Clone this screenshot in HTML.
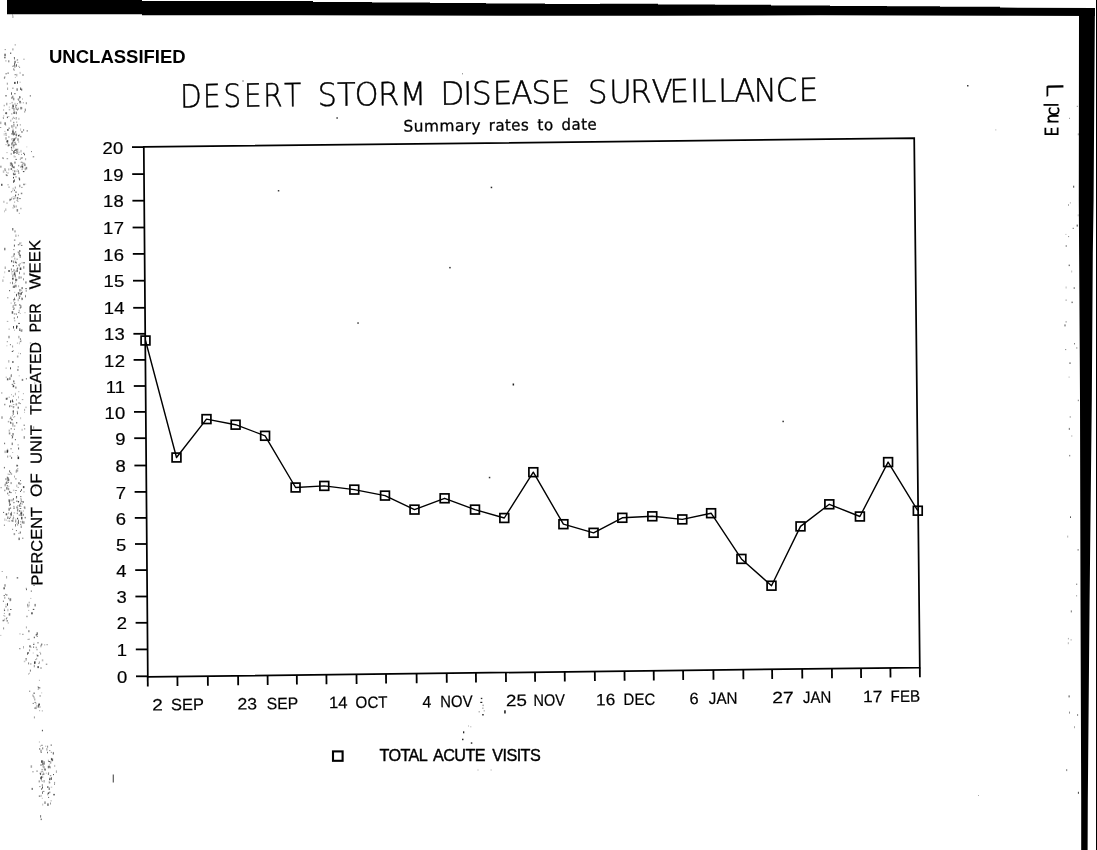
<!DOCTYPE html>
<html><head><meta charset="utf-8"><title>Desert Storm Disease Surveillance</title>
<style>html,body{margin:0;padding:0;background:#fff;} body{width:1097px;height:850px;overflow:hidden;position:relative;}</style>
</head><body>
<svg width="1097" height="850" viewBox="0 0 1097 850" style="position:absolute;left:0;top:0">
<rect width="1097" height="850" fill="#fff"/>
<g id="noise">
<rect x="13.6" y="65.1" width="1" height="1" fill="rgb(88,88,88)" opacity="0.41"/><rect x="4.7" y="49.1" width="1" height="1" fill="rgb(31,31,31)" opacity="0.61"/><rect x="17.1" y="61.9" width="1.5" height="1" fill="rgb(92,92,92)" opacity="0.42"/><rect x="16.3" y="73.9" width="1" height="2.5" fill="rgb(94,94,94)" opacity="0.59"/><rect x="16.6" y="59.5" width="1" height="1.5" fill="rgb(73,73,73)" opacity="0.44"/><rect x="18.4" y="65.8" width="1" height="1" fill="rgb(94,94,94)" opacity="0.69"/><rect x="15.9" y="64.2" width="1" height="2.5" fill="rgb(27,27,27)" opacity="0.72"/><rect x="8.3" y="60.3" width="1" height="2" fill="rgb(94,94,94)" opacity="0.90"/><rect x="12.4" y="65.8" width="1" height="1" fill="rgb(30,30,30)" opacity="0.69"/><rect x="4.1" y="56.8" width="1.5" height="1.5" fill="rgb(97,97,97)" opacity="0.94"/><rect x="19.1" y="67.0" width="1" height="1" fill="rgb(82,82,82)" opacity="0.60"/><rect x="17.1" y="59.0" width="1" height="1.5" fill="rgb(108,108,108)" opacity="0.56"/><rect x="5.4" y="60.4" width="1" height="1" fill="rgb(54,54,54)" opacity="0.63"/><rect x="14.0" y="57.0" width="1" height="2.5" fill="rgb(107,107,107)" opacity="0.84"/><rect x="13.9" y="69.6" width="1" height="1" fill="rgb(79,79,79)" opacity="0.56"/><rect x="10.2" y="52.5" width="1" height="1.5" fill="rgb(36,36,36)" opacity="0.79"/><rect x="5.4" y="73.3" width="1.5" height="1" fill="rgb(41,41,41)" opacity="0.62"/><rect x="4.3" y="53.7" width="1.5" height="2.5" fill="rgb(55,55,55)" opacity="0.77"/><rect x="23.2" y="58.7" width="1.5" height="1" fill="rgb(39,39,39)" opacity="0.40"/><rect x="19.6" y="71.9" width="1" height="2" fill="rgb(95,95,95)" opacity="0.46"/><rect x="14.4" y="65.5" width="1" height="2.5" fill="rgb(92,92,92)" opacity="0.54"/><rect x="22.5" y="74.0" width="1" height="2" fill="rgb(119,119,119)" opacity="0.92"/><rect x="12.1" y="48.4" width="1.5" height="2" fill="rgb(70,70,70)" opacity="0.41"/><rect x="13.7" y="57.3" width="1" height="1" fill="rgb(76,76,76)" opacity="0.45"/><rect x="14.0" y="62.8" width="1" height="2.5" fill="rgb(39,39,39)" opacity="0.67"/>
<rect x="22.0" y="98.5" width="1" height="1" fill="rgb(98,98,98)" opacity="0.58"/><rect x="3.9" y="77.0" width="1" height="2" fill="rgb(35,35,35)" opacity="0.42"/><rect x="8.8" y="106.6" width="1" height="1" fill="rgb(115,115,115)" opacity="0.56"/><rect x="12.9" y="133.1" width="1" height="2.5" fill="rgb(22,22,22)" opacity="0.47"/><rect x="19.5" y="100.8" width="1" height="2.5" fill="rgb(58,58,58)" opacity="0.94"/><rect x="20.1" y="87.5" width="1" height="2.5" fill="rgb(66,66,66)" opacity="0.89"/><rect x="11.3" y="113.4" width="1" height="1" fill="rgb(98,98,98)" opacity="0.84"/><rect x="25.8" y="102.2" width="1" height="2" fill="rgb(114,114,114)" opacity="0.83"/><rect x="16.2" y="121.6" width="1" height="1" fill="rgb(55,55,55)" opacity="0.63"/><rect x="16.9" y="124.2" width="1" height="2" fill="rgb(112,112,112)" opacity="0.94"/><rect x="19.6" y="101.0" width="1" height="1" fill="rgb(49,49,49)" opacity="0.63"/><rect x="10.3" y="119.7" width="1" height="2" fill="rgb(103,103,103)" opacity="0.56"/><rect x="6.8" y="82.7" width="1" height="2" fill="rgb(120,120,120)" opacity="0.78"/><rect x="18.0" y="134.9" width="1.5" height="1.5" fill="rgb(31,31,31)" opacity="0.83"/><rect x="20.0" y="102.3" width="1.5" height="1" fill="rgb(112,112,112)" opacity="0.45"/><rect x="15.4" y="104.8" width="1.5" height="1" fill="rgb(98,98,98)" opacity="0.85"/><rect x="22.8" y="102.3" width="1" height="1" fill="rgb(90,90,90)" opacity="0.68"/><rect x="24.8" y="108.6" width="1" height="2.5" fill="rgb(115,115,115)" opacity="0.91"/><rect x="2.7" y="117.3" width="1" height="1" fill="rgb(52,52,52)" opacity="0.48"/><rect x="3.7" y="104.8" width="1" height="1.5" fill="rgb(89,89,89)" opacity="0.60"/><rect x="23.1" y="129.1" width="1" height="2" fill="rgb(104,104,104)" opacity="0.70"/><rect x="19.2" y="96.1" width="1" height="2.5" fill="rgb(39,39,39)" opacity="0.66"/><rect x="20.5" y="106.9" width="1" height="2.5" fill="rgb(20,20,20)" opacity="0.82"/><rect x="16.0" y="111.7" width="1" height="2.5" fill="rgb(27,27,27)" opacity="0.55"/><rect x="6.3" y="102.8" width="1" height="2.5" fill="rgb(27,27,27)" opacity="0.50"/><rect x="12.2" y="130.4" width="1.5" height="2.5" fill="rgb(23,23,23)" opacity="0.81"/><rect x="19.6" y="96.5" width="1" height="1.5" fill="rgb(77,77,77)" opacity="0.65"/><rect x="16.6" y="88.3" width="1" height="2.5" fill="rgb(53,53,53)" opacity="0.90"/><rect x="17.2" y="98.7" width="1.5" height="1" fill="rgb(73,73,73)" opacity="0.42"/><rect x="11.8" y="107.1" width="1" height="2" fill="rgb(29,29,29)" opacity="0.48"/><rect x="13.0" y="112.2" width="1" height="1.5" fill="rgb(38,38,38)" opacity="0.50"/><rect x="18.4" y="117.8" width="1" height="2" fill="rgb(82,82,82)" opacity="0.45"/><rect x="11.9" y="95.7" width="1.5" height="2.5" fill="rgb(71,71,71)" opacity="0.55"/><rect x="15.8" y="117.4" width="1" height="1" fill="rgb(63,63,63)" opacity="0.68"/><rect x="12.9" y="106.0" width="1" height="2.5" fill="rgb(99,99,99)" opacity="0.53"/><rect x="16.9" y="103.2" width="1" height="1" fill="rgb(30,30,30)" opacity="0.51"/><rect x="24.2" y="111.4" width="1" height="1" fill="rgb(74,74,74)" opacity="0.86"/><rect x="7.4" y="72.6" width="1.5" height="1" fill="rgb(88,88,88)" opacity="0.90"/><rect x="5.5" y="95.0" width="1" height="1.5" fill="rgb(27,27,27)" opacity="0.83"/><rect x="19.2" y="134.1" width="1" height="1" fill="rgb(101,101,101)" opacity="0.40"/><rect x="13.4" y="125.5" width="1" height="1" fill="rgb(53,53,53)" opacity="0.87"/><rect x="8.7" y="108.9" width="1.5" height="1.5" fill="rgb(99,99,99)" opacity="0.43"/><rect x="9.6" y="103.1" width="1" height="1" fill="rgb(53,53,53)" opacity="0.38"/><rect x="15.6" y="117.4" width="1" height="2.5" fill="rgb(117,117,117)" opacity="0.47"/><rect x="5.5" y="112.5" width="1" height="1.5" fill="rgb(22,22,22)" opacity="0.95"/><rect x="15.1" y="105.7" width="1" height="2.5" fill="rgb(80,80,80)" opacity="0.50"/><rect x="5.6" y="112.2" width="1.5" height="2" fill="rgb(89,89,89)" opacity="0.85"/><rect x="8.3" y="116.1" width="1" height="1" fill="rgb(63,63,63)" opacity="0.47"/><rect x="21.2" y="88.6" width="1" height="2" fill="rgb(64,64,64)" opacity="0.94"/><rect x="14.5" y="102.8" width="1" height="2" fill="rgb(40,40,40)" opacity="0.38"/><rect x="11.0" y="92.3" width="1" height="2.5" fill="rgb(51,51,51)" opacity="0.77"/><rect x="17.7" y="107.7" width="1" height="2" fill="rgb(20,20,20)" opacity="0.51"/><rect x="29.8" y="95.4" width="1" height="1" fill="rgb(24,24,24)" opacity="0.93"/><rect x="11.9" y="118.1" width="1" height="1.5" fill="rgb(68,68,68)" opacity="0.40"/><rect x="12.4" y="126.6" width="1" height="2.5" fill="rgb(119,119,119)" opacity="0.35"/><rect x="13.8" y="111.5" width="1.5" height="2.5" fill="rgb(25,25,25)" opacity="0.59"/><rect x="11.4" y="125.1" width="1" height="2.5" fill="rgb(87,87,87)" opacity="0.86"/><rect x="21.2" y="131.2" width="1.5" height="1.5" fill="rgb(112,112,112)" opacity="0.94"/><rect x="19.8" y="124.4" width="1" height="1" fill="rgb(111,111,111)" opacity="0.89"/><rect x="7.1" y="87.5" width="1" height="2.5" fill="rgb(116,116,116)" opacity="0.65"/><rect x="19.6" y="81.7" width="1" height="1" fill="rgb(23,23,23)" opacity="0.38"/><rect x="4.0" y="76.2" width="1.5" height="2" fill="rgb(91,91,91)" opacity="0.38"/><rect x="21.4" y="107.2" width="1" height="2" fill="rgb(53,53,53)" opacity="0.35"/><rect x="17.0" y="81.2" width="1" height="2.5" fill="rgb(28,28,28)" opacity="0.80"/><rect x="3.1" y="109.5" width="1" height="1" fill="rgb(113,113,113)" opacity="0.80"/><rect x="15.1" y="126.6" width="1.5" height="2" fill="rgb(68,68,68)" opacity="0.40"/><rect x="18.2" y="98.4" width="1" height="2.5" fill="rgb(100,100,100)" opacity="0.74"/><rect x="17.0" y="109.0" width="1" height="1.5" fill="rgb(99,99,99)" opacity="0.69"/><rect x="16.1" y="105.4" width="1" height="1" fill="rgb(108,108,108)" opacity="0.48"/>
<rect x="2.4" y="157.0" width="1" height="2" fill="rgb(79,79,79)" opacity="0.63"/><rect x="23.5" y="183.7" width="1" height="1.5" fill="rgb(30,30,30)" opacity="0.91"/><rect x="20.4" y="157.4" width="1.5" height="1.5" fill="rgb(69,69,69)" opacity="0.48"/><rect x="17.4" y="150.4" width="1" height="1" fill="rgb(115,115,115)" opacity="0.66"/><rect x="16.4" y="151.9" width="1" height="1" fill="rgb(110,110,110)" opacity="0.57"/><rect x="9.9" y="162.3" width="1.5" height="2" fill="rgb(71,71,71)" opacity="0.53"/><rect x="16.9" y="169.2" width="1" height="1" fill="rgb(62,62,62)" opacity="0.35"/><rect x="13.1" y="116.8" width="1" height="1" fill="rgb(111,111,111)" opacity="0.36"/><rect x="12.7" y="139.7" width="1" height="2" fill="rgb(69,69,69)" opacity="0.95"/><rect x="7.6" y="144.9" width="1.5" height="1.5" fill="rgb(26,26,26)" opacity="0.52"/><rect x="22.4" y="164.4" width="1" height="1" fill="rgb(54,54,54)" opacity="0.61"/><rect x="8.3" y="186.6" width="1.5" height="1" fill="rgb(117,117,117)" opacity="0.73"/><rect x="26.7" y="130.4" width="1" height="1" fill="rgb(26,26,26)" opacity="0.91"/><rect x="5.1" y="169.7" width="1" height="1.5" fill="rgb(82,82,82)" opacity="0.38"/><rect x="16.2" y="150.4" width="1.5" height="2" fill="rgb(63,63,63)" opacity="0.52"/><rect x="12.6" y="187.7" width="1" height="2" fill="rgb(103,103,103)" opacity="0.49"/><rect x="3.0" y="158.1" width="1" height="1" fill="rgb(102,102,102)" opacity="0.45"/><rect x="16.8" y="197.0" width="1.5" height="2.5" fill="rgb(48,48,48)" opacity="0.62"/><rect x="7.3" y="184.3" width="1.5" height="1" fill="rgb(90,90,90)" opacity="0.47"/><rect x="18.2" y="164.9" width="1" height="1.5" fill="rgb(50,50,50)" opacity="0.57"/><rect x="14.7" y="142.5" width="1" height="2" fill="rgb(69,69,69)" opacity="0.60"/><rect x="6.5" y="152.1" width="1" height="1" fill="rgb(83,83,83)" opacity="0.52"/><rect x="16.4" y="152.9" width="1" height="1" fill="rgb(54,54,54)" opacity="0.89"/><rect x="5.7" y="174.1" width="1.5" height="1.5" fill="rgb(22,22,22)" opacity="0.43"/><rect x="2.8" y="170.4" width="1.5" height="2.5" fill="rgb(82,82,82)" opacity="0.35"/><rect x="1.0" y="183.8" width="1.5" height="2" fill="rgb(51,51,51)" opacity="0.82"/><rect x="13.6" y="166.3" width="1" height="2" fill="rgb(30,30,30)" opacity="0.68"/><rect x="24.4" y="163.6" width="1" height="2.5" fill="rgb(24,24,24)" opacity="0.74"/><rect x="11.8" y="164.9" width="1" height="2.5" fill="rgb(101,101,101)" opacity="0.61"/><rect x="13.3" y="145.9" width="1" height="2.5" fill="rgb(94,94,94)" opacity="0.47"/><rect x="12.2" y="190.3" width="1" height="1" fill="rgb(88,88,88)" opacity="0.53"/><rect x="4.4" y="122.3" width="1.5" height="2.5" fill="rgb(50,50,50)" opacity="0.68"/><rect x="19.8" y="158.8" width="1" height="1" fill="rgb(22,22,22)" opacity="0.47"/><rect x="20.3" y="135.9" width="1" height="1.5" fill="rgb(49,49,49)" opacity="0.75"/><rect x="17.3" y="148.5" width="1" height="1.5" fill="rgb(111,111,111)" opacity="0.60"/><rect x="11.2" y="142.9" width="1" height="2.5" fill="rgb(28,28,28)" opacity="0.47"/><rect x="18.7" y="151.7" width="1" height="1" fill="rgb(79,79,79)" opacity="0.48"/><rect x="13.4" y="138.3" width="1.5" height="2.5" fill="rgb(43,43,43)" opacity="0.89"/><rect x="21.5" y="164.3" width="1.5" height="1" fill="rgb(47,47,47)" opacity="0.36"/><rect x="7.2" y="143.2" width="1" height="1" fill="rgb(70,70,70)" opacity="0.62"/><rect x="11.6" y="138.1" width="1" height="1" fill="rgb(41,41,41)" opacity="0.55"/><rect x="19.2" y="198.1" width="1.5" height="1" fill="rgb(59,59,59)" opacity="0.75"/><rect x="8.3" y="168.4" width="1" height="2" fill="rgb(41,41,41)" opacity="0.42"/><rect x="15.4" y="158.9" width="1.5" height="1" fill="rgb(91,91,91)" opacity="0.93"/><rect x="14.7" y="173.1" width="1" height="2" fill="rgb(31,31,31)" opacity="0.38"/><rect x="6.6" y="158.2" width="1.5" height="1" fill="rgb(61,61,61)" opacity="0.57"/><rect x="14.3" y="152.0" width="1.5" height="1" fill="rgb(100,100,100)" opacity="0.81"/><rect x="14.7" y="156.3" width="1" height="1" fill="rgb(52,52,52)" opacity="0.47"/><rect x="21.5" y="165.5" width="1" height="1.5" fill="rgb(62,62,62)" opacity="0.92"/><rect x="9.1" y="144.5" width="1" height="1.5" fill="rgb(58,58,58)" opacity="0.35"/><rect x="13.5" y="110.5" width="1" height="1" fill="rgb(49,49,49)" opacity="0.41"/><rect x="11.4" y="133.1" width="1.5" height="1.5" fill="rgb(75,75,75)" opacity="0.84"/><rect x="18.3" y="172.4" width="1" height="1.5" fill="rgb(108,108,108)" opacity="0.81"/><rect x="8.3" y="143.9" width="1" height="2" fill="rgb(66,66,66)" opacity="0.82"/><rect x="6.3" y="141.4" width="1.5" height="1" fill="rgb(51,51,51)" opacity="0.59"/><rect x="8.4" y="136.5" width="1" height="1" fill="rgb(74,74,74)" opacity="0.88"/><rect x="18.3" y="153.8" width="1" height="1" fill="rgb(32,32,32)" opacity="0.60"/><rect x="31.0" y="151.1" width="1" height="1" fill="rgb(37,37,37)" opacity="0.60"/><rect x="5.6" y="134.5" width="1" height="1.5" fill="rgb(57,57,57)" opacity="0.52"/><rect x="12.4" y="170.2" width="1" height="1" fill="rgb(76,76,76)" opacity="0.50"/><rect x="13.1" y="166.5" width="1" height="1.5" fill="rgb(28,28,28)" opacity="0.59"/><rect x="21.0" y="153.9" width="1" height="1" fill="rgb(103,103,103)" opacity="0.63"/><rect x="13.6" y="155.4" width="1" height="2" fill="rgb(67,67,67)" opacity="0.37"/><rect x="12.1" y="164.7" width="1" height="2.5" fill="rgb(94,94,94)" opacity="0.47"/><rect x="20.2" y="165.9" width="1" height="2" fill="rgb(97,97,97)" opacity="0.51"/><rect x="15.8" y="107.5" width="1" height="2.5" fill="rgb(110,110,110)" opacity="0.72"/><rect x="14.3" y="173.8" width="1" height="1" fill="rgb(46,46,46)" opacity="0.95"/><rect x="23.6" y="162.7" width="1" height="1" fill="rgb(61,61,61)" opacity="0.60"/><rect x="6.5" y="175.1" width="1" height="1" fill="rgb(24,24,24)" opacity="0.83"/><rect x="10.7" y="152.9" width="1" height="2" fill="rgb(104,104,104)" opacity="0.68"/><rect x="11.1" y="148.3" width="1" height="2" fill="rgb(109,109,109)" opacity="0.51"/><rect x="23.0" y="152.8" width="1.5" height="1" fill="rgb(59,59,59)" opacity="0.80"/><rect x="18.2" y="141.2" width="1" height="1.5" fill="rgb(102,102,102)" opacity="0.47"/><rect x="12.4" y="141.6" width="1" height="2" fill="rgb(40,40,40)" opacity="0.60"/><rect x="15.9" y="136.5" width="1" height="2" fill="rgb(118,118,118)" opacity="0.45"/><rect x="21.5" y="157.4" width="1.5" height="1" fill="rgb(93,93,93)" opacity="0.72"/><rect x="7.5" y="172.2" width="1" height="1.5" fill="rgb(56,56,56)" opacity="0.45"/><rect x="14.2" y="161.6" width="1.5" height="2" fill="rgb(116,116,116)" opacity="0.83"/><rect x="17.4" y="152.3" width="1" height="1" fill="rgb(81,81,81)" opacity="0.54"/><rect x="5.5" y="137.2" width="1" height="2.5" fill="rgb(108,108,108)" opacity="0.84"/><rect x="19.3" y="184.7" width="1" height="2.5" fill="rgb(71,71,71)" opacity="0.72"/><rect x="15.5" y="176.4" width="1" height="1" fill="rgb(71,71,71)" opacity="0.91"/><rect x="16.5" y="170.7" width="1" height="1" fill="rgb(112,112,112)" opacity="0.84"/><rect x="17.9" y="193.8" width="1" height="1.5" fill="rgb(35,35,35)" opacity="0.58"/><rect x="0.4" y="165.7" width="1" height="2" fill="rgb(59,59,59)" opacity="0.70"/><rect x="4.2" y="168.2" width="1.5" height="2.5" fill="rgb(76,76,76)" opacity="0.46"/><rect x="32.7" y="156.3" width="1.5" height="1" fill="rgb(77,77,77)" opacity="0.81"/><rect x="14.4" y="133.2" width="1" height="2" fill="rgb(71,71,71)" opacity="0.41"/><rect x="18.0" y="170.3" width="1" height="2" fill="rgb(84,84,84)" opacity="0.66"/><rect x="22.3" y="162.2" width="1" height="1.5" fill="rgb(119,119,119)" opacity="0.78"/><rect x="22.9" y="171.1" width="1.5" height="1" fill="rgb(23,23,23)" opacity="0.86"/><rect x="24.0" y="154.2" width="1" height="1" fill="rgb(36,36,36)" opacity="0.94"/><rect x="16.5" y="149.0" width="1" height="1" fill="rgb(64,64,64)" opacity="0.72"/><rect x="12.9" y="172.7" width="1" height="2" fill="rgb(38,38,38)" opacity="0.50"/><rect x="20.5" y="149.9" width="1" height="2.5" fill="rgb(84,84,84)" opacity="0.49"/><rect x="9.9" y="164.6" width="1.5" height="1" fill="rgb(101,101,101)" opacity="0.91"/><rect x="6.9" y="116.6" width="1" height="1.5" fill="rgb(34,34,34)" opacity="0.81"/><rect x="25.7" y="166.9" width="1.5" height="2.5" fill="rgb(86,86,86)" opacity="0.70"/><rect x="15.3" y="148.7" width="1.5" height="1.5" fill="rgb(53,53,53)" opacity="0.58"/><rect x="10.4" y="163.2" width="1" height="1" fill="rgb(76,76,76)" opacity="0.49"/><rect x="0.3" y="121.6" width="1" height="2.5" fill="rgb(52,52,52)" opacity="0.54"/><rect x="26.3" y="146.4" width="1" height="1" fill="rgb(115,115,115)" opacity="0.37"/><rect x="18.5" y="177.3" width="1.5" height="2" fill="rgb(85,85,85)" opacity="0.57"/><rect x="20.5" y="161.8" width="1" height="1" fill="rgb(26,26,26)" opacity="0.35"/><rect x="11.0" y="162.5" width="1" height="2.5" fill="rgb(48,48,48)" opacity="0.60"/><rect x="11.9" y="165.2" width="1" height="2.5" fill="rgb(80,80,80)" opacity="0.45"/><rect x="25.1" y="158.2" width="1" height="2" fill="rgb(32,32,32)" opacity="0.39"/><rect x="19.1" y="178.4" width="1" height="2" fill="rgb(53,53,53)" opacity="0.93"/><rect x="24.7" y="167.8" width="1" height="2.5" fill="rgb(102,102,102)" opacity="0.70"/><rect x="6.5" y="140.6" width="1.5" height="1" fill="rgb(41,41,41)" opacity="0.89"/><rect x="21.0" y="161.7" width="1.5" height="1" fill="rgb(50,50,50)" opacity="0.45"/><rect x="15.7" y="150.0" width="1" height="1" fill="rgb(72,72,72)" opacity="0.47"/><rect x="6.8" y="140.1" width="1.5" height="2.5" fill="rgb(42,42,42)" opacity="0.66"/><rect x="21.7" y="165.9" width="1.5" height="2.5" fill="rgb(20,20,20)" opacity="0.58"/><rect x="21.6" y="169.1" width="1" height="1" fill="rgb(33,33,33)" opacity="0.51"/><rect x="10.9" y="146.9" width="1" height="1" fill="rgb(54,54,54)" opacity="0.73"/><rect x="8.6" y="127.5" width="1" height="1.5" fill="rgb(102,102,102)" opacity="0.91"/><rect x="15.2" y="149.8" width="1" height="1" fill="rgb(53,53,53)" opacity="0.89"/><rect x="15.5" y="143.7" width="1" height="1.5" fill="rgb(44,44,44)" opacity="0.88"/><rect x="10.6" y="168.0" width="1.5" height="2" fill="rgb(87,87,87)" opacity="0.77"/><rect x="17.5" y="138.3" width="1" height="2.5" fill="rgb(59,59,59)" opacity="0.82"/><rect x="6.0" y="171.7" width="1" height="1" fill="rgb(24,24,24)" opacity="0.37"/><rect x="25.2" y="183.6" width="1" height="1" fill="rgb(109,109,109)" opacity="0.37"/><rect x="23.0" y="162.9" width="1" height="1" fill="rgb(114,114,114)" opacity="0.38"/><rect x="20.1" y="128.4" width="1" height="2.5" fill="rgb(105,105,105)" opacity="0.39"/>
<rect x="21.1" y="186.9" width="1.5" height="1" fill="rgb(51,51,51)" opacity="0.47"/><rect x="14.1" y="201.4" width="1" height="1.5" fill="rgb(81,81,81)" opacity="0.41"/><rect x="20.4" y="207.8" width="1" height="1.5" fill="rgb(60,60,60)" opacity="0.55"/><rect x="12.6" y="207.4" width="1" height="1" fill="rgb(111,111,111)" opacity="0.81"/><rect x="20.8" y="192.7" width="1.5" height="1.5" fill="rgb(99,99,99)" opacity="0.80"/><rect x="13.3" y="198.0" width="1" height="1.5" fill="rgb(80,80,80)" opacity="0.77"/><rect x="9.3" y="198.7" width="1" height="2.5" fill="rgb(56,56,56)" opacity="0.45"/><rect x="16.6" y="200.0" width="1" height="1" fill="rgb(64,64,64)" opacity="0.64"/><rect x="3.4" y="200.8" width="1" height="2" fill="rgb(95,95,95)" opacity="0.56"/><rect x="15.1" y="194.6" width="1" height="1.5" fill="rgb(47,47,47)" opacity="0.91"/><rect x="13.4" y="204.8" width="1" height="2" fill="rgb(120,120,120)" opacity="0.94"/><rect x="10.6" y="198.6" width="1" height="1.5" fill="rgb(32,32,32)" opacity="0.59"/><rect x="4.0" y="210.3" width="1" height="2" fill="rgb(102,102,102)" opacity="0.37"/><rect x="14.1" y="206.0" width="1" height="2" fill="rgb(100,100,100)" opacity="0.49"/><rect x="6.5" y="202.4" width="1" height="1.5" fill="rgb(94,94,94)" opacity="0.55"/><rect x="18.8" y="212.8" width="1" height="1" fill="rgb(79,79,79)" opacity="0.61"/><rect x="14.0" y="189.6" width="1" height="1.5" fill="rgb(79,79,79)" opacity="0.74"/><rect x="10.9" y="191.0" width="1" height="1.5" fill="rgb(116,116,116)" opacity="0.77"/><rect x="14.7" y="196.1" width="1" height="1" fill="rgb(112,112,112)" opacity="0.55"/><rect x="9.8" y="199.3" width="1" height="1" fill="rgb(53,53,53)" opacity="0.94"/><rect x="12.7" y="196.3" width="1" height="1" fill="rgb(69,69,69)" opacity="0.44"/><rect x="15.7" y="205.4" width="1" height="2" fill="rgb(55,55,55)" opacity="0.47"/><rect x="11.3" y="197.1" width="1" height="2" fill="rgb(79,79,79)" opacity="0.37"/><rect x="5.3" y="208.4" width="1" height="2.5" fill="rgb(100,100,100)" opacity="0.53"/><rect x="17.1" y="200.9" width="1.5" height="1" fill="rgb(114,114,114)" opacity="0.50"/>
<rect x="14.5" y="74.2" width="1.5" height="1" fill="rgb(105,105,105)" opacity="0.78"/><rect x="14.9" y="76.9" width="1" height="1" fill="rgb(102,102,102)" opacity="0.42"/><rect x="12.7" y="144.4" width="1" height="2" fill="rgb(51,51,51)" opacity="0.82"/><rect x="13.2" y="68.3" width="1" height="2" fill="rgb(81,81,81)" opacity="0.62"/><rect x="12.7" y="98.1" width="1" height="1.5" fill="rgb(119,119,119)" opacity="0.36"/><rect x="14.7" y="44.4" width="1" height="1" fill="rgb(52,52,52)" opacity="0.68"/><rect x="14.5" y="196.5" width="1" height="2.5" fill="rgb(64,64,64)" opacity="0.41"/><rect x="12.3" y="104.6" width="1.5" height="2.5" fill="rgb(22,22,22)" opacity="0.73"/><rect x="14.1" y="81.9" width="1.5" height="2" fill="rgb(46,46,46)" opacity="0.94"/><rect x="14.0" y="179.4" width="1" height="2.5" fill="rgb(65,65,65)" opacity="0.73"/><rect x="13.5" y="174.1" width="1" height="1" fill="rgb(29,29,29)" opacity="0.60"/><rect x="12.0" y="163.3" width="1" height="2.5" fill="rgb(53,53,53)" opacity="0.42"/><rect x="13.1" y="173.0" width="1" height="2" fill="rgb(79,79,79)" opacity="0.48"/><rect x="14.8" y="186.6" width="1" height="2" fill="rgb(102,102,102)" opacity="0.69"/><rect x="13.9" y="244.6" width="1" height="2" fill="rgb(79,79,79)" opacity="0.95"/><rect x="13.6" y="65.0" width="1.5" height="1.5" fill="rgb(120,120,120)" opacity="0.86"/><rect x="13.4" y="173.5" width="1" height="2" fill="rgb(106,106,106)" opacity="0.46"/><rect x="15.2" y="131.2" width="1" height="1.5" fill="rgb(51,51,51)" opacity="0.74"/><rect x="13.0" y="176.9" width="1" height="1.5" fill="rgb(39,39,39)" opacity="0.91"/><rect x="13.7" y="117.8" width="1" height="1" fill="rgb(87,87,87)" opacity="0.85"/><rect x="13.4" y="124.2" width="1" height="1" fill="rgb(29,29,29)" opacity="0.74"/><rect x="13.5" y="150.8" width="1" height="1" fill="rgb(43,43,43)" opacity="0.82"/><rect x="13.1" y="151.3" width="1.5" height="2.5" fill="rgb(41,41,41)" opacity="0.72"/><rect x="12.4" y="15.5" width="1" height="2.5" fill="rgb(120,120,120)" opacity="0.73"/><rect x="13.1" y="180.3" width="1" height="2.5" fill="rgb(30,30,30)" opacity="0.80"/><rect x="11.4" y="165.1" width="1" height="1.5" fill="rgb(73,73,73)" opacity="0.49"/><rect x="14.3" y="170.3" width="1" height="2" fill="rgb(79,79,79)" opacity="0.89"/><rect x="13.3" y="97.8" width="1" height="2.5" fill="rgb(96,96,96)" opacity="0.87"/><rect x="15.6" y="133.6" width="1.5" height="2.5" fill="rgb(83,83,83)" opacity="0.75"/><rect x="14.1" y="93.2" width="1.5" height="1" fill="rgb(43,43,43)" opacity="0.73"/><rect x="13.3" y="121.8" width="1" height="1.5" fill="rgb(32,32,32)" opacity="0.66"/><rect x="11.2" y="139.2" width="1" height="1" fill="rgb(111,111,111)" opacity="0.60"/><rect x="13.8" y="144.3" width="1" height="1.5" fill="rgb(80,80,80)" opacity="0.82"/><rect x="11.3" y="96.9" width="1" height="2" fill="rgb(63,63,63)" opacity="0.60"/><rect x="11.6" y="101.9" width="1" height="1.5" fill="rgb(83,83,83)" opacity="0.59"/><rect x="12.6" y="129.2" width="1" height="1" fill="rgb(103,103,103)" opacity="0.65"/><rect x="14.0" y="149.9" width="1" height="1" fill="rgb(95,95,95)" opacity="0.93"/><rect x="16.6" y="209.1" width="1.5" height="2.5" fill="rgb(71,71,71)" opacity="0.68"/><rect x="14.4" y="141.7" width="1" height="1" fill="rgb(44,44,44)" opacity="0.84"/><rect x="11.7" y="142.0" width="1" height="2.5" fill="rgb(89,89,89)" opacity="0.72"/><rect x="12.4" y="87.7" width="1" height="1" fill="rgb(25,25,25)" opacity="0.75"/><rect x="11.7" y="150.0" width="1" height="1" fill="rgb(24,24,24)" opacity="0.60"/><rect x="15.5" y="191.4" width="1" height="1.5" fill="rgb(37,37,37)" opacity="0.82"/><rect x="12.7" y="116.8" width="1" height="1" fill="rgb(73,73,73)" opacity="0.37"/><rect x="14.9" y="137.4" width="1" height="2" fill="rgb(92,92,92)" opacity="0.66"/><rect x="14.3" y="60.8" width="1.5" height="2.5" fill="rgb(109,109,109)" opacity="0.90"/><rect x="13.3" y="132.5" width="1.5" height="2.5" fill="rgb(95,95,95)" opacity="0.95"/><rect x="13.2" y="108.0" width="1.5" height="2.5" fill="rgb(33,33,33)" opacity="0.40"/><rect x="11.2" y="146.6" width="1" height="2" fill="rgb(20,20,20)" opacity="0.36"/><rect x="12.0" y="14.4" width="1" height="1" fill="rgb(35,35,35)" opacity="0.43"/>
<rect x="23.6" y="272.7" width="1" height="2" fill="rgb(113,113,113)" opacity="0.80"/><rect x="19.6" y="263.3" width="1" height="1" fill="rgb(57,57,57)" opacity="0.73"/><rect x="13.5" y="253.9" width="1" height="1" fill="rgb(111,111,111)" opacity="0.37"/><rect x="25.4" y="281.5" width="1" height="2" fill="rgb(59,59,59)" opacity="0.54"/><rect x="4.0" y="247.8" width="1.5" height="2.5" fill="rgb(27,27,27)" opacity="0.54"/><rect x="23.3" y="262.3" width="1.5" height="1" fill="rgb(38,38,38)" opacity="0.93"/><rect x="25.0" y="294.9" width="1" height="2" fill="rgb(81,81,81)" opacity="0.58"/><rect x="17.9" y="234.8" width="1" height="1.5" fill="rgb(55,55,55)" opacity="0.39"/><rect x="23.3" y="266.2" width="1" height="2.5" fill="rgb(112,112,112)" opacity="0.94"/><rect x="18.6" y="252.3" width="1" height="2.5" fill="rgb(74,74,74)" opacity="0.94"/><rect x="15.1" y="284.8" width="1.5" height="2.5" fill="rgb(118,118,118)" opacity="0.89"/><rect x="16.6" y="258.5" width="1" height="1.5" fill="rgb(53,53,53)" opacity="0.51"/><rect x="21.7" y="298.2" width="1" height="1.5" fill="rgb(38,38,38)" opacity="0.84"/><rect x="19.7" y="255.5" width="1" height="2.5" fill="rgb(107,107,107)" opacity="0.82"/><rect x="8.3" y="270.0" width="1.5" height="2" fill="rgb(45,45,45)" opacity="0.82"/><rect x="12.3" y="228.0" width="1" height="2.5" fill="rgb(27,27,27)" opacity="0.76"/><rect x="11.4" y="272.2" width="1" height="2.5" fill="rgb(116,116,116)" opacity="0.36"/><rect x="9.9" y="282.4" width="1" height="1" fill="rgb(49,49,49)" opacity="0.59"/><rect x="10.9" y="268.5" width="1" height="2" fill="rgb(84,84,84)" opacity="0.70"/><rect x="16.3" y="279.1" width="1" height="1.5" fill="rgb(66,66,66)" opacity="0.70"/><rect x="9.1" y="290.2" width="1" height="1" fill="rgb(25,25,25)" opacity="0.90"/><rect x="4.2" y="271.3" width="1" height="2" fill="rgb(120,120,120)" opacity="0.40"/><rect x="14.5" y="273.4" width="1" height="2.5" fill="rgb(97,97,97)" opacity="0.36"/><rect x="31.1" y="279.6" width="1.5" height="2.5" fill="rgb(92,92,92)" opacity="0.48"/><rect x="18.9" y="264.5" width="1" height="2" fill="rgb(118,118,118)" opacity="0.71"/><rect x="12.8" y="265.0" width="1" height="1.5" fill="rgb(45,45,45)" opacity="0.95"/><rect x="14.1" y="272.5" width="1" height="2.5" fill="rgb(67,67,67)" opacity="0.87"/><rect x="2.4" y="279.4" width="1" height="2.5" fill="rgb(101,101,101)" opacity="0.59"/><rect x="25.0" y="296.0" width="1" height="1.5" fill="rgb(92,92,92)" opacity="0.49"/><rect x="25.3" y="288.1" width="1.5" height="1" fill="rgb(77,77,77)" opacity="0.86"/><rect x="12.3" y="278.0" width="1" height="1" fill="rgb(24,24,24)" opacity="0.92"/><rect x="16.8" y="268.1" width="1" height="1" fill="rgb(53,53,53)" opacity="0.82"/><rect x="13.0" y="249.1" width="1.5" height="1" fill="rgb(32,32,32)" opacity="0.44"/><rect x="15.4" y="234.5" width="1" height="2.5" fill="rgb(95,95,95)" opacity="0.61"/><rect x="11.5" y="256.2" width="1" height="1.5" fill="rgb(69,69,69)" opacity="0.42"/><rect x="11.7" y="271.1" width="1" height="1" fill="rgb(106,106,106)" opacity="0.89"/><rect x="3.3" y="276.6" width="1" height="1" fill="rgb(48,48,48)" opacity="0.40"/><rect x="11.2" y="260.2" width="1" height="2" fill="rgb(32,32,32)" opacity="0.91"/><rect x="14.2" y="272.1" width="1" height="2" fill="rgb(63,63,63)" opacity="0.54"/><rect x="15.3" y="277.4" width="1" height="1" fill="rgb(62,62,62)" opacity="0.48"/><rect x="23.0" y="278.3" width="1" height="2" fill="rgb(39,39,39)" opacity="0.51"/><rect x="12.3" y="274.6" width="1" height="2.5" fill="rgb(57,57,57)" opacity="0.55"/><rect x="18.1" y="285.2" width="1" height="2" fill="rgb(81,81,81)" opacity="0.42"/><rect x="16.8" y="269.3" width="1" height="2.5" fill="rgb(81,81,81)" opacity="0.85"/><rect x="21.6" y="287.1" width="1" height="2" fill="rgb(53,53,53)" opacity="0.95"/><rect x="17.2" y="266.9" width="1" height="2" fill="rgb(40,40,40)" opacity="0.38"/><rect x="14.3" y="257.6" width="1" height="2" fill="rgb(84,84,84)" opacity="0.55"/><rect x="15.2" y="270.7" width="1" height="1" fill="rgb(66,66,66)" opacity="0.61"/><rect x="18.2" y="264.5" width="1" height="1" fill="rgb(43,43,43)" opacity="0.66"/><rect x="15.4" y="279.3" width="1" height="1" fill="rgb(97,97,97)" opacity="0.79"/><rect x="15.2" y="260.7" width="1" height="2.5" fill="rgb(105,105,105)" opacity="0.77"/><rect x="17.7" y="251.6" width="1" height="1" fill="rgb(28,28,28)" opacity="0.77"/><rect x="4.7" y="266.5" width="1" height="2.5" fill="rgb(64,64,64)" opacity="0.55"/><rect x="20.9" y="244.9" width="1.5" height="1" fill="rgb(21,21,21)" opacity="0.60"/><rect x="15.2" y="262.0" width="1" height="1" fill="rgb(43,43,43)" opacity="0.69"/><rect x="16.5" y="269.6" width="1" height="2.5" fill="rgb(96,96,96)" opacity="0.86"/><rect x="7.3" y="297.3" width="1" height="1" fill="rgb(65,65,65)" opacity="0.78"/><rect x="19.4" y="242.5" width="1" height="2" fill="rgb(93,93,93)" opacity="0.80"/><rect x="25.2" y="281.4" width="1.5" height="2" fill="rgb(85,85,85)" opacity="0.37"/><rect x="16.0" y="262.4" width="1" height="1" fill="rgb(48,48,48)" opacity="0.72"/>
<rect x="19.7" y="307.5" width="1" height="1" fill="rgb(32,32,32)" opacity="0.91"/><rect x="17.8" y="292.2" width="1.5" height="2.5" fill="rgb(50,50,50)" opacity="0.77"/><rect x="24.5" y="312.2" width="1" height="1" fill="rgb(54,54,54)" opacity="0.42"/><rect x="13.2" y="300.5" width="1" height="1" fill="rgb(35,35,35)" opacity="0.42"/><rect x="21.8" y="291.7" width="1" height="1" fill="rgb(38,38,38)" opacity="0.75"/><rect x="14.0" y="302.4" width="1" height="2" fill="rgb(108,108,108)" opacity="0.60"/><rect x="20.6" y="289.7" width="1.5" height="1" fill="rgb(119,119,119)" opacity="0.57"/><rect x="11.7" y="311.2" width="1.5" height="2.5" fill="rgb(61,61,61)" opacity="0.84"/><rect x="18.8" y="297.3" width="1" height="1.5" fill="rgb(51,51,51)" opacity="0.87"/><rect x="17.7" y="298.7" width="1" height="2.5" fill="rgb(43,43,43)" opacity="0.39"/><rect x="13.6" y="304.8" width="1" height="1" fill="rgb(37,37,37)" opacity="0.60"/><rect x="6.8" y="320.9" width="1.5" height="1" fill="rgb(25,25,25)" opacity="0.37"/><rect x="16.0" y="293.9" width="1" height="2.5" fill="rgb(24,24,24)" opacity="0.72"/><rect x="18.0" y="312.1" width="1.5" height="1" fill="rgb(25,25,25)" opacity="0.52"/><rect x="16.0" y="313.6" width="1" height="1" fill="rgb(96,96,96)" opacity="0.93"/><rect x="25.7" y="289.8" width="1" height="2" fill="rgb(95,95,95)" opacity="0.67"/><rect x="19.2" y="304.1" width="1" height="1.5" fill="rgb(72,72,72)" opacity="0.70"/><rect x="17.0" y="316.1" width="1" height="2" fill="rgb(98,98,98)" opacity="0.77"/><rect x="18.7" y="309.7" width="1" height="2" fill="rgb(90,90,90)" opacity="0.53"/><rect x="10.6" y="302.6" width="1" height="1" fill="rgb(62,62,62)" opacity="0.48"/><rect x="14.0" y="299.2" width="1.5" height="1" fill="rgb(65,65,65)" opacity="0.45"/><rect x="21.4" y="297.4" width="1" height="2" fill="rgb(54,54,54)" opacity="0.52"/><rect x="21.4" y="299.3" width="1" height="1" fill="rgb(90,90,90)" opacity="0.39"/><rect x="21.0" y="292.2" width="1" height="2.5" fill="rgb(69,69,69)" opacity="0.85"/><rect x="13.8" y="313.5" width="1" height="1" fill="rgb(73,73,73)" opacity="0.55"/>
<rect x="13.0" y="326.0" width="1" height="2.5" fill="rgb(32,32,32)" opacity="0.79"/><rect x="13.9" y="239.4" width="1.5" height="1.5" fill="rgb(120,120,120)" opacity="0.73"/><rect x="12.9" y="255.5" width="1.5" height="1" fill="rgb(20,20,20)" opacity="0.60"/><rect x="13.5" y="285.4" width="1.5" height="2.5" fill="rgb(39,39,39)" opacity="0.60"/><rect x="14.5" y="230.4" width="1" height="2" fill="rgb(77,77,77)" opacity="0.77"/><rect x="13.8" y="317.2" width="1" height="2" fill="rgb(87,87,87)" opacity="0.68"/><rect x="13.3" y="307.6" width="1.5" height="2" fill="rgb(76,76,76)" opacity="0.53"/><rect x="12.1" y="277.6" width="1.5" height="2.5" fill="rgb(68,68,68)" opacity="0.70"/><rect x="16.1" y="325.4" width="1" height="2.5" fill="rgb(51,51,51)" opacity="0.93"/><rect x="14.3" y="320.3" width="1" height="1" fill="rgb(26,26,26)" opacity="0.50"/><rect x="14.7" y="274.6" width="1" height="2.5" fill="rgb(99,99,99)" opacity="0.95"/><rect x="12.7" y="286.0" width="1.5" height="2" fill="rgb(79,79,79)" opacity="0.56"/><rect x="13.2" y="274.4" width="1" height="1" fill="rgb(87,87,87)" opacity="0.49"/><rect x="12.9" y="309.0" width="1" height="1" fill="rgb(73,73,73)" opacity="0.64"/><rect x="12.6" y="305.4" width="1" height="2.5" fill="rgb(115,115,115)" opacity="0.84"/><rect x="14.5" y="313.1" width="1" height="1.5" fill="rgb(85,85,85)" opacity="0.46"/><rect x="13.5" y="269.2" width="1" height="2.5" fill="rgb(73,73,73)" opacity="0.73"/><rect x="12.0" y="281.7" width="1" height="2.5" fill="rgb(44,44,44)" opacity="0.60"/><rect x="15.3" y="304.3" width="1" height="1.5" fill="rgb(92,92,92)" opacity="0.95"/><rect x="13.8" y="283.3" width="1.5" height="1" fill="rgb(120,120,120)" opacity="0.35"/><rect x="13.7" y="253.1" width="1" height="2" fill="rgb(32,32,32)" opacity="0.70"/><rect x="13.6" y="272.7" width="1.5" height="2.5" fill="rgb(92,92,92)" opacity="0.51"/><rect x="13.2" y="260.6" width="1" height="2.5" fill="rgb(45,45,45)" opacity="0.60"/><rect x="14.5" y="302.1" width="1" height="1" fill="rgb(32,32,32)" opacity="0.40"/><rect x="15.2" y="278.8" width="1.5" height="2.5" fill="rgb(75,75,75)" opacity="0.83"/><rect x="14.2" y="291.8" width="1" height="1" fill="rgb(111,111,111)" opacity="0.49"/><rect x="14.0" y="297.7" width="1" height="2.5" fill="rgb(28,28,28)" opacity="0.56"/><rect x="13.0" y="299.2" width="1" height="1" fill="rgb(70,70,70)" opacity="0.70"/><rect x="15.1" y="281.9" width="1" height="1" fill="rgb(48,48,48)" opacity="0.38"/><rect x="15.9" y="265.2" width="1" height="1" fill="rgb(78,78,78)" opacity="0.53"/>
<rect x="17.8" y="244.3" width="1.5" height="1" fill="rgb(51,51,51)" opacity="0.76"/><rect x="19.3" y="254.6" width="1.5" height="1.5" fill="rgb(71,71,71)" opacity="0.88"/><rect x="18.1" y="295.2" width="1" height="1" fill="rgb(42,42,42)" opacity="0.45"/><rect x="19.9" y="292.6" width="1" height="2" fill="rgb(91,91,91)" opacity="0.57"/><rect x="18.9" y="342.3" width="1" height="2" fill="rgb(103,103,103)" opacity="0.39"/><rect x="21.4" y="329.2" width="1" height="2.5" fill="rgb(51,51,51)" opacity="0.58"/><rect x="19.0" y="295.7" width="1.5" height="1" fill="rgb(55,55,55)" opacity="0.75"/><rect x="19.7" y="304.7" width="1" height="1" fill="rgb(45,45,45)" opacity="0.51"/><rect x="20.3" y="276.5" width="1.5" height="2" fill="rgb(50,50,50)" opacity="0.45"/><rect x="19.0" y="328.3" width="1.5" height="2.5" fill="rgb(46,46,46)" opacity="0.53"/><rect x="19.3" y="293.1" width="1.5" height="1" fill="rgb(110,110,110)" opacity="0.95"/><rect x="19.0" y="271.7" width="1" height="2.5" fill="rgb(51,51,51)" opacity="0.59"/><rect x="19.4" y="289.0" width="1" height="2.5" fill="rgb(31,31,31)" opacity="0.68"/><rect x="19.8" y="341.1" width="1.5" height="1" fill="rgb(104,104,104)" opacity="0.78"/><rect x="20.1" y="294.1" width="1" height="1" fill="rgb(119,119,119)" opacity="0.86"/><rect x="19.3" y="329.9" width="1" height="1" fill="rgb(91,91,91)" opacity="0.90"/><rect x="20.6" y="242.4" width="1" height="1" fill="rgb(111,111,111)" opacity="0.54"/><rect x="20.1" y="305.4" width="1.5" height="1.5" fill="rgb(65,65,65)" opacity="0.59"/><rect x="21.6" y="261.9" width="1" height="1.5" fill="rgb(42,42,42)" opacity="0.37"/><rect x="19.3" y="250.0" width="1" height="2" fill="rgb(23,23,23)" opacity="0.75"/><rect x="19.7" y="268.5" width="1.5" height="1.5" fill="rgb(100,100,100)" opacity="0.41"/><rect x="19.8" y="313.0" width="1" height="1" fill="rgb(71,71,71)" opacity="0.37"/><rect x="20.4" y="307.0" width="1" height="1" fill="rgb(68,68,68)" opacity="0.79"/><rect x="18.6" y="276.3" width="1" height="2.5" fill="rgb(49,49,49)" opacity="0.69"/><rect x="19.8" y="267.5" width="1.5" height="2.5" fill="rgb(64,64,64)" opacity="0.91"/>
<rect x="20.0" y="353.2" width="1" height="1" fill="rgb(94,94,94)" opacity="0.71"/><rect x="16.9" y="342.6" width="1" height="1" fill="rgb(60,60,60)" opacity="0.48"/><rect x="20.7" y="329.8" width="1" height="2" fill="rgb(108,108,108)" opacity="0.80"/><rect x="20.5" y="339.8" width="1" height="1.5" fill="rgb(87,87,87)" opacity="0.40"/><rect x="18.4" y="335.8" width="1" height="2.5" fill="rgb(114,114,114)" opacity="0.76"/><rect x="17.0" y="325.7" width="1" height="1" fill="rgb(74,74,74)" opacity="0.75"/><rect x="18.3" y="322.9" width="1.5" height="1" fill="rgb(25,25,25)" opacity="0.92"/><rect x="16.1" y="326.3" width="1" height="2.5" fill="rgb(40,40,40)" opacity="0.93"/><rect x="8.6" y="328.6" width="1" height="1" fill="rgb(41,41,41)" opacity="0.56"/><rect x="9.9" y="344.2" width="1" height="1" fill="rgb(37,37,37)" opacity="0.76"/><rect x="6.8" y="341.2" width="1" height="1" fill="rgb(85,85,85)" opacity="0.76"/><rect x="18.2" y="352.7" width="1" height="1" fill="rgb(110,110,110)" opacity="0.44"/><rect x="8.5" y="335.8" width="1" height="2.5" fill="rgb(74,74,74)" opacity="0.81"/><rect x="16.9" y="355.5" width="1.5" height="2" fill="rgb(46,46,46)" opacity="0.42"/><rect x="11.8" y="351.0" width="1" height="1" fill="rgb(27,27,27)" opacity="0.89"/><rect x="12.1" y="345.5" width="1" height="2" fill="rgb(34,34,34)" opacity="0.45"/><rect x="6.4" y="345.3" width="1" height="1" fill="rgb(91,91,91)" opacity="0.39"/><rect x="29.8" y="342.5" width="1.5" height="1" fill="rgb(115,115,115)" opacity="0.78"/><rect x="19.9" y="338.1" width="1" height="2" fill="rgb(75,75,75)" opacity="0.64"/><rect x="14.0" y="329.7" width="1" height="1" fill="rgb(102,102,102)" opacity="0.52"/>
<rect x="5.7" y="376.7" width="1" height="1" fill="rgb(30,30,30)" opacity="0.43"/><rect x="25.5" y="406.6" width="1" height="1.5" fill="rgb(67,67,67)" opacity="0.46"/><rect x="5.6" y="367.6" width="1" height="1" fill="rgb(120,120,120)" opacity="0.78"/><rect x="10.5" y="428.3" width="1.5" height="1" fill="rgb(102,102,102)" opacity="0.85"/><rect x="11.2" y="419.1" width="1" height="1.5" fill="rgb(50,50,50)" opacity="0.38"/><rect x="23.5" y="424.7" width="1.5" height="1" fill="rgb(47,47,47)" opacity="0.65"/><rect x="10.0" y="400.0" width="1" height="2.5" fill="rgb(94,94,94)" opacity="0.73"/><rect x="17.0" y="412.3" width="1" height="2" fill="rgb(101,101,101)" opacity="0.93"/><rect x="15.6" y="403.4" width="1.5" height="2" fill="rgb(44,44,44)" opacity="0.48"/><rect x="12.8" y="404.0" width="1.5" height="1" fill="rgb(56,56,56)" opacity="0.39"/><rect x="24.0" y="411.8" width="1" height="1" fill="rgb(76,76,76)" opacity="0.36"/><rect x="18.0" y="396.3" width="1" height="2" fill="rgb(57,57,57)" opacity="0.35"/><rect x="17.4" y="368.9" width="1" height="2" fill="rgb(30,30,30)" opacity="0.68"/><rect x="6.9" y="397.6" width="1" height="2" fill="rgb(97,97,97)" opacity="0.72"/><rect x="14.9" y="392.8" width="1" height="2.5" fill="rgb(104,104,104)" opacity="0.53"/><rect x="4.3" y="403.8" width="1" height="1.5" fill="rgb(87,87,87)" opacity="0.88"/><rect x="18.3" y="402.5" width="1.5" height="1" fill="rgb(38,38,38)" opacity="0.75"/><rect x="7.8" y="420.9" width="1.5" height="1.5" fill="rgb(87,87,87)" opacity="0.49"/><rect x="9.1" y="406.2" width="1" height="1" fill="rgb(45,45,45)" opacity="0.68"/><rect x="24.2" y="428.4" width="1" height="1" fill="rgb(44,44,44)" opacity="0.67"/><rect x="13.9" y="425.5" width="1.5" height="1" fill="rgb(89,89,89)" opacity="0.69"/><rect x="20.1" y="417.2" width="1" height="2" fill="rgb(106,106,106)" opacity="0.39"/><rect x="1.5" y="416.3" width="1" height="2.5" fill="rgb(33,33,33)" opacity="0.63"/><rect x="10.7" y="374.6" width="1" height="2.5" fill="rgb(80,80,80)" opacity="0.81"/><rect x="21.6" y="428.8" width="1" height="2" fill="rgb(50,50,50)" opacity="0.38"/><rect x="24.1" y="408.9" width="1" height="2" fill="rgb(58,58,58)" opacity="0.42"/><rect x="23.7" y="436.2" width="1" height="2.5" fill="rgb(45,45,45)" opacity="0.69"/><rect x="25.9" y="378.0" width="1" height="1.5" fill="rgb(115,115,115)" opacity="0.85"/><rect x="17.7" y="366.1" width="1" height="1.5" fill="rgb(35,35,35)" opacity="0.49"/><rect x="5.8" y="397.8" width="1" height="2" fill="rgb(25,25,25)" opacity="0.84"/><rect x="10.2" y="416.4" width="1" height="2.5" fill="rgb(34,34,34)" opacity="0.37"/><rect x="18.3" y="391.2" width="1" height="1" fill="rgb(108,108,108)" opacity="0.62"/><rect x="18.7" y="375.3" width="1" height="1" fill="rgb(82,82,82)" opacity="0.42"/><rect x="15.4" y="386.6" width="1" height="2" fill="rgb(38,38,38)" opacity="0.70"/><rect x="14.0" y="475.6" width="1" height="2" fill="rgb(21,21,21)" opacity="0.36"/><rect x="21.8" y="399.1" width="1.5" height="1" fill="rgb(24,24,24)" opacity="0.39"/><rect x="6.9" y="378.3" width="1.5" height="2" fill="rgb(40,40,40)" opacity="0.77"/><rect x="9.4" y="405.0" width="1" height="1.5" fill="rgb(62,62,62)" opacity="0.67"/><rect x="12.7" y="410.8" width="1" height="1" fill="rgb(41,41,41)" opacity="0.84"/><rect x="13.1" y="380.5" width="1.5" height="2" fill="rgb(65,65,65)" opacity="0.54"/><rect x="10.0" y="421.7" width="1" height="1" fill="rgb(51,51,51)" opacity="0.63"/><rect x="16.0" y="399.4" width="1" height="1" fill="rgb(54,54,54)" opacity="0.58"/><rect x="33.2" y="426.3" width="1" height="2.5" fill="rgb(93,93,93)" opacity="0.67"/><rect x="34.3" y="381.7" width="1" height="2.5" fill="rgb(118,118,118)" opacity="0.41"/><rect x="16.2" y="422.0" width="1" height="1.5" fill="rgb(56,56,56)" opacity="0.83"/><rect x="14.9" y="439.2" width="1" height="1" fill="rgb(58,58,58)" opacity="0.93"/><rect x="10.5" y="417.5" width="1" height="1.5" fill="rgb(90,90,90)" opacity="0.78"/><rect x="8.7" y="429.6" width="1" height="2" fill="rgb(84,84,84)" opacity="0.57"/><rect x="14.2" y="416.1" width="1" height="1" fill="rgb(37,37,37)" opacity="0.47"/><rect x="21.7" y="378.9" width="1.5" height="2" fill="rgb(70,70,70)" opacity="0.69"/><rect x="12.7" y="412.7" width="1" height="1" fill="rgb(58,58,58)" opacity="0.78"/><rect x="13.9" y="428.7" width="1" height="1" fill="rgb(44,44,44)" opacity="0.70"/><rect x="17.7" y="406.7" width="1" height="2" fill="rgb(65,65,65)" opacity="0.93"/><rect x="10.0" y="367.3" width="1" height="2" fill="rgb(60,60,60)" opacity="0.89"/><rect x="13.2" y="416.8" width="1" height="1" fill="rgb(100,100,100)" opacity="0.51"/><rect x="12.7" y="385.2" width="1.5" height="2" fill="rgb(45,45,45)" opacity="0.89"/><rect x="12.4" y="425.4" width="1" height="1" fill="rgb(50,50,50)" opacity="0.79"/><rect x="22.9" y="393.2" width="1" height="1" fill="rgb(93,93,93)" opacity="0.55"/><rect x="16.8" y="410.8" width="1" height="1.5" fill="rgb(23,23,23)" opacity="0.48"/><rect x="8.8" y="432.4" width="1.5" height="2" fill="rgb(98,98,98)" opacity="0.76"/><rect x="12.8" y="406.4" width="1.5" height="1" fill="rgb(31,31,31)" opacity="0.73"/><rect x="10.0" y="422.2" width="1.5" height="1.5" fill="rgb(79,79,79)" opacity="0.87"/><rect x="19.8" y="403.1" width="1" height="1" fill="rgb(73,73,73)" opacity="0.72"/><rect x="13.0" y="380.6" width="1" height="1" fill="rgb(39,39,39)" opacity="0.48"/><rect x="1.3" y="392.2" width="1" height="1.5" fill="rgb(74,74,74)" opacity="0.56"/><rect x="8.3" y="360.1" width="1" height="2.5" fill="rgb(93,93,93)" opacity="0.55"/><rect x="13.7" y="383.0" width="1.5" height="1" fill="rgb(119,119,119)" opacity="0.74"/><rect x="9.1" y="377.4" width="1.5" height="2.5" fill="rgb(55,55,55)" opacity="0.57"/><rect x="8.7" y="396.7" width="1" height="1" fill="rgb(91,91,91)" opacity="0.64"/>
<rect x="11.0" y="374.3" width="1" height="1" fill="rgb(100,100,100)" opacity="0.49"/><rect x="12.0" y="399.2" width="1" height="2.5" fill="rgb(37,37,37)" opacity="0.42"/><rect x="11.3" y="405.5" width="1" height="1.5" fill="rgb(97,97,97)" opacity="0.57"/><rect x="12.4" y="422.6" width="1" height="2.5" fill="rgb(23,23,23)" opacity="0.56"/><rect x="11.7" y="383.9" width="1.5" height="1" fill="rgb(101,101,101)" opacity="0.90"/><rect x="12.9" y="395.5" width="1" height="1.5" fill="rgb(23,23,23)" opacity="0.41"/><rect x="12.0" y="400.9" width="1.5" height="1.5" fill="rgb(27,27,27)" opacity="0.49"/><rect x="10.3" y="448.3" width="1.5" height="1" fill="rgb(23,23,23)" opacity="0.50"/><rect x="11.9" y="436.6" width="1" height="1.5" fill="rgb(46,46,46)" opacity="0.55"/><rect x="11.2" y="419.1" width="1.5" height="1" fill="rgb(92,92,92)" opacity="0.82"/><rect x="9.5" y="418.3" width="1" height="1" fill="rgb(58,58,58)" opacity="0.52"/><rect x="11.4" y="435.1" width="1" height="1" fill="rgb(60,60,60)" opacity="0.76"/><rect x="11.0" y="394.2" width="1" height="1" fill="rgb(114,114,114)" opacity="0.57"/><rect x="12.4" y="361.0" width="1" height="2" fill="rgb(37,37,37)" opacity="0.95"/><rect x="11.9" y="415.3" width="1" height="1" fill="rgb(21,21,21)" opacity="0.43"/><rect x="11.6" y="437.9" width="1" height="1" fill="rgb(116,116,116)" opacity="0.45"/><rect x="11.8" y="400.1" width="1" height="2" fill="rgb(62,62,62)" opacity="0.94"/><rect x="12.8" y="413.8" width="1" height="1" fill="rgb(37,37,37)" opacity="0.65"/><rect x="12.1" y="436.4" width="1" height="1" fill="rgb(26,26,26)" opacity="0.94"/><rect x="11.1" y="456.9" width="1" height="2" fill="rgb(37,37,37)" opacity="0.67"/><rect x="12.8" y="410.3" width="1" height="2.5" fill="rgb(84,84,84)" opacity="0.95"/><rect x="10.0" y="401.1" width="1" height="1.5" fill="rgb(47,47,47)" opacity="0.86"/><rect x="12.8" y="406.9" width="1" height="1.5" fill="rgb(110,110,110)" opacity="0.46"/><rect x="12.0" y="419.4" width="1" height="1" fill="rgb(85,85,85)" opacity="0.38"/><rect x="12.7" y="350.3" width="1" height="1" fill="rgb(61,61,61)" opacity="0.76"/>
<rect x="7.2" y="455.6" width="1" height="2" fill="rgb(115,115,115)" opacity="0.78"/><rect x="7.2" y="477.2" width="1.5" height="2" fill="rgb(39,39,39)" opacity="0.58"/><rect x="6.8" y="479.5" width="1" height="1" fill="rgb(50,50,50)" opacity="0.71"/><rect x="16.6" y="465.2" width="1.5" height="1" fill="rgb(45,45,45)" opacity="0.75"/><rect x="20.0" y="480.1" width="1" height="1" fill="rgb(71,71,71)" opacity="0.77"/><rect x="7.6" y="488.0" width="1" height="2" fill="rgb(93,93,93)" opacity="0.35"/><rect x="11.7" y="442.6" width="1" height="2.5" fill="rgb(89,89,89)" opacity="0.95"/><rect x="12.9" y="489.6" width="1.5" height="1.5" fill="rgb(111,111,111)" opacity="0.39"/><rect x="17.3" y="468.3" width="1" height="1" fill="rgb(100,100,100)" opacity="0.83"/><rect x="4.1" y="442.7" width="1" height="1.5" fill="rgb(80,80,80)" opacity="0.86"/><rect x="6.8" y="485.3" width="1" height="1" fill="rgb(28,28,28)" opacity="0.91"/><rect x="3.9" y="466.9" width="1" height="1.5" fill="rgb(50,50,50)" opacity="0.75"/><rect x="17.7" y="486.9" width="1" height="1" fill="rgb(61,61,61)" opacity="0.58"/><rect x="18.1" y="447.5" width="1" height="2" fill="rgb(39,39,39)" opacity="0.77"/><rect x="7.4" y="479.4" width="1" height="2" fill="rgb(104,104,104)" opacity="0.40"/><rect x="9.5" y="455.6" width="1.5" height="1" fill="rgb(117,117,117)" opacity="0.66"/><rect x="15.6" y="470.3" width="1.5" height="2.5" fill="rgb(104,104,104)" opacity="0.49"/><rect x="7.8" y="479.3" width="1.5" height="1.5" fill="rgb(22,22,22)" opacity="0.68"/><rect x="17.2" y="470.1" width="1" height="1.5" fill="rgb(111,111,111)" opacity="0.68"/><rect x="16.5" y="464.6" width="1" height="2" fill="rgb(31,31,31)" opacity="0.67"/><rect x="9.1" y="470.3" width="1" height="2" fill="rgb(57,57,57)" opacity="0.72"/><rect x="10.6" y="473.0" width="1.5" height="2" fill="rgb(66,66,66)" opacity="0.38"/><rect x="12.3" y="433.0" width="1.5" height="2.5" fill="rgb(52,52,52)" opacity="0.56"/><rect x="5.3" y="482.1" width="1" height="2.5" fill="rgb(67,67,67)" opacity="0.39"/><rect x="15.9" y="496.6" width="1" height="2" fill="rgb(68,68,68)" opacity="0.59"/><rect x="4.6" y="450.6" width="1" height="2.5" fill="rgb(92,92,92)" opacity="0.63"/><rect x="5.4" y="478.1" width="1" height="2" fill="rgb(70,70,70)" opacity="0.64"/><rect x="6.7" y="449.8" width="1.5" height="2.5" fill="rgb(25,25,25)" opacity="0.91"/><rect x="10.4" y="482.1" width="1.5" height="2" fill="rgb(35,35,35)" opacity="0.40"/><rect x="17.1" y="455.1" width="1" height="1" fill="rgb(83,83,83)" opacity="0.40"/><rect x="12.2" y="452.0" width="1" height="1" fill="rgb(111,111,111)" opacity="0.55"/><rect x="17.6" y="456.6" width="1.5" height="2.5" fill="rgb(37,37,37)" opacity="0.95"/><rect x="17.6" y="444.1" width="1" height="1.5" fill="rgb(62,62,62)" opacity="0.46"/><rect x="16.3" y="469.0" width="1" height="2.5" fill="rgb(53,53,53)" opacity="0.40"/><rect x="4.6" y="483.8" width="1" height="2.5" fill="rgb(70,70,70)" opacity="0.66"/><rect x="10.1" y="472.2" width="1" height="1" fill="rgb(68,68,68)" opacity="0.83"/>
<rect x="18.2" y="500.9" width="1" height="1" fill="rgb(26,26,26)" opacity="0.47"/><rect x="6.0" y="481.5" width="1.5" height="2.5" fill="rgb(38,38,38)" opacity="0.57"/><rect x="16.4" y="500.5" width="1" height="1.5" fill="rgb(21,21,21)" opacity="0.67"/><rect x="7.7" y="520.5" width="1" height="1" fill="rgb(55,55,55)" opacity="0.48"/><rect x="10.8" y="513.7" width="1" height="2.5" fill="rgb(98,98,98)" opacity="0.62"/><rect x="21.7" y="503.5" width="1" height="1" fill="rgb(43,43,43)" opacity="0.61"/><rect x="13.6" y="506.4" width="1" height="2.5" fill="rgb(83,83,83)" opacity="0.46"/><rect x="22.7" y="501.0" width="1" height="2" fill="rgb(48,48,48)" opacity="0.75"/><rect x="12.4" y="498.8" width="1" height="2.5" fill="rgb(40,40,40)" opacity="0.44"/><rect x="19.0" y="505.0" width="1" height="2" fill="rgb(32,32,32)" opacity="0.47"/><rect x="16.8" y="512.6" width="1" height="1.5" fill="rgb(110,110,110)" opacity="0.89"/><rect x="13.5" y="502.0" width="1" height="1" fill="rgb(25,25,25)" opacity="0.45"/><rect x="4.3" y="518.4" width="1" height="2.5" fill="rgb(112,112,112)" opacity="0.44"/><rect x="20.1" y="503.0" width="1" height="1" fill="rgb(105,105,105)" opacity="0.94"/><rect x="13.6" y="512.4" width="1.5" height="1" fill="rgb(102,102,102)" opacity="0.52"/><rect x="9.2" y="490.9" width="1" height="2" fill="rgb(39,39,39)" opacity="0.79"/><rect x="5.8" y="519.6" width="1" height="1" fill="rgb(65,65,65)" opacity="0.42"/><rect x="34.9" y="486.8" width="1" height="1.5" fill="rgb(82,82,82)" opacity="0.56"/><rect x="15.0" y="492.4" width="1" height="1" fill="rgb(82,82,82)" opacity="0.52"/><rect x="12.1" y="528.8" width="1" height="1" fill="rgb(37,37,37)" opacity="0.63"/><rect x="16.3" y="484.6" width="1" height="2.5" fill="rgb(58,58,58)" opacity="0.37"/><rect x="0.6" y="487.2" width="1" height="1" fill="rgb(39,39,39)" opacity="0.74"/><rect x="20.8" y="514.2" width="1.5" height="2" fill="rgb(51,51,51)" opacity="0.55"/><rect x="12.9" y="515.5" width="1" height="1" fill="rgb(112,112,112)" opacity="0.69"/><rect x="22.1" y="520.7" width="1" height="2.5" fill="rgb(70,70,70)" opacity="0.63"/><rect x="22.9" y="513.8" width="1" height="2" fill="rgb(102,102,102)" opacity="0.77"/><rect x="3.9" y="524.5" width="1" height="1.5" fill="rgb(113,113,113)" opacity="0.75"/><rect x="17.1" y="517.8" width="1" height="1.5" fill="rgb(20,20,20)" opacity="0.86"/><rect x="20.4" y="497.7" width="1" height="1.5" fill="rgb(32,32,32)" opacity="0.41"/><rect x="15.3" y="518.6" width="1" height="2.5" fill="rgb(89,89,89)" opacity="0.42"/><rect x="11.0" y="511.8" width="1" height="2.5" fill="rgb(52,52,52)" opacity="0.57"/><rect x="17.2" y="524.4" width="1" height="1" fill="rgb(50,50,50)" opacity="0.79"/><rect x="10.1" y="507.6" width="1" height="1" fill="rgb(33,33,33)" opacity="0.92"/><rect x="3.1" y="511.9" width="1" height="1" fill="rgb(31,31,31)" opacity="0.80"/><rect x="18.0" y="519.7" width="1" height="2" fill="rgb(70,70,70)" opacity="0.72"/><rect x="21.8" y="522.4" width="1" height="1" fill="rgb(104,104,104)" opacity="0.70"/><rect x="15.9" y="530.1" width="1" height="1" fill="rgb(29,29,29)" opacity="0.71"/><rect x="16.9" y="509.5" width="1" height="1.5" fill="rgb(63,63,63)" opacity="0.40"/><rect x="15.5" y="490.0" width="1" height="1" fill="rgb(60,60,60)" opacity="0.91"/><rect x="9.1" y="518.1" width="1" height="1" fill="rgb(38,38,38)" opacity="0.79"/><rect x="13.3" y="502.3" width="1" height="1" fill="rgb(46,46,46)" opacity="0.47"/><rect x="16.1" y="523.2" width="1" height="1" fill="rgb(81,81,81)" opacity="0.37"/><rect x="9.0" y="507.9" width="1" height="2.5" fill="rgb(101,101,101)" opacity="0.39"/><rect x="16.5" y="506.4" width="1" height="2" fill="rgb(31,31,31)" opacity="0.74"/><rect x="23.8" y="506.4" width="1.5" height="2" fill="rgb(37,37,37)" opacity="0.51"/><rect x="13.0" y="498.0" width="1" height="2" fill="rgb(120,120,120)" opacity="0.83"/><rect x="8.9" y="501.4" width="1" height="2.5" fill="rgb(88,88,88)" opacity="0.74"/><rect x="13.3" y="505.8" width="1" height="1" fill="rgb(50,50,50)" opacity="0.47"/><rect x="10.2" y="512.9" width="1.5" height="2.5" fill="rgb(107,107,107)" opacity="0.88"/><rect x="24.5" y="516.9" width="1.5" height="1.5" fill="rgb(68,68,68)" opacity="0.59"/><rect x="23.4" y="521.3" width="1" height="2.5" fill="rgb(74,74,74)" opacity="0.83"/><rect x="22.8" y="510.5" width="1" height="1" fill="rgb(80,80,80)" opacity="0.60"/><rect x="9.1" y="499.9" width="1" height="2.5" fill="rgb(47,47,47)" opacity="0.40"/><rect x="9.1" y="520.4" width="1" height="1.5" fill="rgb(62,62,62)" opacity="0.40"/><rect x="13.6" y="533.1" width="1.5" height="2" fill="rgb(104,104,104)" opacity="0.67"/><rect x="15.2" y="520.5" width="1" height="2" fill="rgb(43,43,43)" opacity="0.58"/><rect x="13.1" y="517.4" width="1" height="1" fill="rgb(64,64,64)" opacity="0.88"/><rect x="4.0" y="489.7" width="1.5" height="1.5" fill="rgb(83,83,83)" opacity="0.54"/><rect x="23.5" y="491.4" width="1" height="1" fill="rgb(70,70,70)" opacity="0.67"/><rect x="19.2" y="510.0" width="1" height="2" fill="rgb(92,92,92)" opacity="0.84"/><rect x="15.0" y="524.0" width="1" height="2.5" fill="rgb(114,114,114)" opacity="0.87"/><rect x="8.5" y="508.7" width="1" height="2" fill="rgb(29,29,29)" opacity="0.66"/><rect x="12.4" y="520.3" width="1" height="1.5" fill="rgb(59,59,59)" opacity="0.75"/><rect x="10.6" y="499.3" width="1" height="2" fill="rgb(83,83,83)" opacity="0.57"/><rect x="17.3" y="509.2" width="1" height="2.5" fill="rgb(68,68,68)" opacity="0.62"/><rect x="15.1" y="478.4" width="1.5" height="1" fill="rgb(61,61,61)" opacity="0.64"/><rect x="30.8" y="511.6" width="1" height="1" fill="rgb(44,44,44)" opacity="0.70"/><rect x="13.2" y="507.8" width="1.5" height="1" fill="rgb(115,115,115)" opacity="0.70"/><rect x="24.4" y="507.6" width="1" height="1.5" fill="rgb(118,118,118)" opacity="0.68"/><rect x="7.8" y="488.2" width="1.5" height="2" fill="rgb(110,110,110)" opacity="0.57"/><rect x="19.9" y="502.4" width="1.5" height="1" fill="rgb(88,88,88)" opacity="0.56"/><rect x="20.2" y="523.9" width="1" height="1" fill="rgb(59,59,59)" opacity="0.79"/><rect x="17.8" y="521.4" width="1" height="2.5" fill="rgb(58,58,58)" opacity="0.93"/><rect x="16.1" y="496.0" width="1" height="1.5" fill="rgb(59,59,59)" opacity="0.88"/><rect x="5.7" y="513.3" width="1.5" height="2" fill="rgb(33,33,33)" opacity="0.76"/><rect x="11.2" y="520.0" width="1.5" height="1.5" fill="rgb(34,34,34)" opacity="0.47"/><rect x="21.2" y="501.1" width="1.5" height="1" fill="rgb(119,119,119)" opacity="0.89"/><rect x="20.3" y="513.3" width="1.5" height="2.5" fill="rgb(105,105,105)" opacity="0.60"/><rect x="21.0" y="516.9" width="1.5" height="2.5" fill="rgb(56,56,56)" opacity="0.86"/><rect x="20.3" y="521.3" width="1" height="1" fill="rgb(88,88,88)" opacity="0.85"/><rect x="9.2" y="504.3" width="1" height="1.5" fill="rgb(51,51,51)" opacity="0.88"/><rect x="17.2" y="505.2" width="1.5" height="1" fill="rgb(59,59,59)" opacity="0.45"/><rect x="19.8" y="531.5" width="1" height="2" fill="rgb(70,70,70)" opacity="0.85"/><rect x="18.2" y="482.2" width="1.5" height="2" fill="rgb(83,83,83)" opacity="0.83"/><rect x="12.5" y="517.8" width="1" height="2.5" fill="rgb(114,114,114)" opacity="0.66"/><rect x="8.0" y="481.8" width="1" height="1" fill="rgb(63,63,63)" opacity="0.76"/><rect x="17.2" y="507.5" width="1" height="2.5" fill="rgb(105,105,105)" opacity="0.49"/><rect x="10.7" y="514.3" width="1" height="1" fill="rgb(39,39,39)" opacity="0.48"/><rect x="17.9" y="501.0" width="1" height="1.5" fill="rgb(24,24,24)" opacity="0.80"/>
<rect x="8.7" y="473.9" width="1" height="1" fill="rgb(102,102,102)" opacity="0.77"/><rect x="7.6" y="473.6" width="1" height="1" fill="rgb(118,118,118)" opacity="0.71"/><rect x="8.4" y="485.7" width="1" height="1" fill="rgb(59,59,59)" opacity="0.41"/><rect x="6.7" y="451.5" width="1" height="1.5" fill="rgb(22,22,22)" opacity="0.77"/><rect x="9.9" y="516.7" width="1" height="1" fill="rgb(20,20,20)" opacity="0.62"/><rect x="8.1" y="478.3" width="1" height="2" fill="rgb(95,95,95)" opacity="0.68"/><rect x="8.1" y="494.7" width="1.5" height="1" fill="rgb(81,81,81)" opacity="0.48"/><rect x="7.3" y="486.8" width="1" height="2.5" fill="rgb(92,92,92)" opacity="0.49"/><rect x="6.1" y="487.1" width="1" height="2.5" fill="rgb(88,88,88)" opacity="0.78"/><rect x="8.1" y="512.2" width="1" height="2" fill="rgb(67,67,67)" opacity="0.39"/><rect x="6.8" y="476.6" width="1" height="2" fill="rgb(69,69,69)" opacity="0.66"/><rect x="7.3" y="492.4" width="1" height="1.5" fill="rgb(88,88,88)" opacity="0.55"/><rect x="8.4" y="499.3" width="1.5" height="2.5" fill="rgb(37,37,37)" opacity="0.61"/><rect x="10.2" y="492.1" width="1.5" height="1" fill="rgb(63,63,63)" opacity="0.72"/><rect x="8.5" y="507.8" width="1" height="1" fill="rgb(114,114,114)" opacity="0.89"/><rect x="9.9" y="503.6" width="1" height="1.5" fill="rgb(45,45,45)" opacity="0.69"/><rect x="7.1" y="448.7" width="1" height="2.5" fill="rgb(112,112,112)" opacity="0.36"/><rect x="7.3" y="516.5" width="1" height="2.5" fill="rgb(65,65,65)" opacity="0.73"/><rect x="7.1" y="493.0" width="1" height="1.5" fill="rgb(33,33,33)" opacity="0.38"/><rect x="8.5" y="516.7" width="1" height="2" fill="rgb(118,118,118)" opacity="0.41"/>
<rect x="20.5" y="512.2" width="1.5" height="2" fill="rgb(30,30,30)" opacity="0.90"/><rect x="20.3" y="483.1" width="1" height="1" fill="rgb(87,87,87)" opacity="0.69"/><rect x="19.3" y="504.3" width="1" height="1" fill="rgb(44,44,44)" opacity="0.78"/><rect x="22.9" y="486.1" width="1.5" height="2" fill="rgb(40,40,40)" opacity="0.84"/><rect x="20.3" y="496.0" width="1" height="1" fill="rgb(47,47,47)" opacity="0.79"/><rect x="19.7" y="504.1" width="1" height="2" fill="rgb(119,119,119)" opacity="0.38"/><rect x="21.0" y="489.1" width="1" height="1.5" fill="rgb(63,63,63)" opacity="0.72"/><rect x="20.9" y="489.8" width="1" height="1" fill="rgb(51,51,51)" opacity="0.47"/><rect x="18.6" y="537.6" width="1" height="2.5" fill="rgb(36,36,36)" opacity="0.92"/><rect x="18.7" y="514.6" width="1.5" height="1" fill="rgb(92,92,92)" opacity="0.78"/><rect x="21.1" y="512.5" width="1.5" height="1" fill="rgb(111,111,111)" opacity="0.74"/><rect x="19.6" y="483.9" width="1" height="1" fill="rgb(83,83,83)" opacity="0.71"/><rect x="20.7" y="510.7" width="1" height="1" fill="rgb(70,70,70)" opacity="0.69"/><rect x="20.0" y="490.8" width="1" height="1" fill="rgb(32,32,32)" opacity="0.89"/><rect x="20.0" y="505.8" width="1.5" height="1" fill="rgb(71,71,71)" opacity="0.49"/><rect x="20.7" y="499.1" width="1" height="2.5" fill="rgb(101,101,101)" opacity="0.70"/><rect x="19.7" y="508.0" width="1.5" height="1" fill="rgb(81,81,81)" opacity="0.80"/><rect x="22.3" y="537.7" width="1" height="1" fill="rgb(38,38,38)" opacity="0.83"/><rect x="20.7" y="525.5" width="1" height="2.5" fill="rgb(120,120,120)" opacity="0.92"/><rect x="18.4" y="532.8" width="1" height="1" fill="rgb(91,91,91)" opacity="0.74"/>
<rect x="8.7" y="614.2" width="1" height="1" fill="rgb(104,104,104)" opacity="0.68"/><rect x="4.1" y="618.6" width="1" height="2.5" fill="rgb(115,115,115)" opacity="0.48"/><rect x="6.5" y="620.4" width="1.5" height="1" fill="rgb(35,35,35)" opacity="0.77"/><rect x="4.5" y="584.2" width="1" height="2.5" fill="rgb(31,31,31)" opacity="0.68"/><rect x="4.1" y="610.0" width="1" height="1" fill="rgb(31,31,31)" opacity="0.57"/><rect x="3.1" y="627.4" width="1" height="2" fill="rgb(97,97,97)" opacity="0.70"/><rect x="3.9" y="612.9" width="1" height="1" fill="rgb(25,25,25)" opacity="0.42"/><rect x="3.4" y="587.3" width="1.5" height="2" fill="rgb(72,72,72)" opacity="0.90"/><rect x="2.9" y="600.7" width="1" height="1" fill="rgb(27,27,27)" opacity="0.78"/><rect x="10.0" y="609.0" width="1.5" height="1" fill="rgb(43,43,43)" opacity="0.72"/><rect x="4.3" y="615.4" width="1" height="1.5" fill="rgb(120,120,120)" opacity="0.53"/><rect x="3.3" y="615.1" width="1" height="1" fill="rgb(76,76,76)" opacity="0.45"/><rect x="9.7" y="598.3" width="1.5" height="2.5" fill="rgb(116,116,116)" opacity="0.95"/><rect x="5.0" y="593.8" width="1" height="1" fill="rgb(72,72,72)" opacity="0.67"/><rect x="2.7" y="619.8" width="1" height="1.5" fill="rgb(20,20,20)" opacity="0.81"/><rect x="6.1" y="576.0" width="1" height="2.5" fill="rgb(40,40,40)" opacity="0.41"/><rect x="6.3" y="594.2" width="1" height="1.5" fill="rgb(28,28,28)" opacity="0.67"/><rect x="7.0" y="603.2" width="1" height="2.5" fill="rgb(51,51,51)" opacity="0.91"/><rect x="1.7" y="571.0" width="1" height="1" fill="rgb(47,47,47)" opacity="0.52"/><rect x="5.5" y="603.7" width="1" height="2" fill="rgb(111,111,111)" opacity="0.42"/><rect x="9.4" y="598.8" width="1" height="1.5" fill="rgb(116,116,116)" opacity="0.58"/><rect x="0.3" y="634.9" width="1" height="1" fill="rgb(102,102,102)" opacity="0.51"/><rect x="9.7" y="600.5" width="1" height="1" fill="rgb(96,96,96)" opacity="0.39"/><rect x="3.9" y="608.6" width="1" height="2.5" fill="rgb(21,21,21)" opacity="0.39"/><rect x="8.8" y="613.1" width="1.5" height="2.5" fill="rgb(108,108,108)" opacity="0.88"/><rect x="8.2" y="597.7" width="1" height="1.5" fill="rgb(58,58,58)" opacity="0.59"/><rect x="4.3" y="596.8" width="1" height="2" fill="rgb(63,63,63)" opacity="0.54"/><rect x="5.9" y="618.3" width="1" height="1" fill="rgb(46,46,46)" opacity="0.83"/><rect x="3.7" y="595.1" width="1" height="1" fill="rgb(29,29,29)" opacity="0.89"/><rect x="7.7" y="622.2" width="1" height="1.5" fill="rgb(43,43,43)" opacity="0.38"/><rect x="7.4" y="608.8" width="1" height="2.5" fill="rgb(94,94,94)" opacity="0.48"/><rect x="5.5" y="606.0" width="1" height="1.5" fill="rgb(66,66,66)" opacity="0.68"/><rect x="6.4" y="617.0" width="1" height="1.5" fill="rgb(66,66,66)" opacity="0.45"/>
<rect x="25.7" y="587.7" width="1" height="1.5" fill="rgb(117,117,117)" opacity="0.58"/><rect x="30.3" y="597.9" width="1" height="1" fill="rgb(117,117,117)" opacity="0.58"/><rect x="26.2" y="615.7" width="1.5" height="1.5" fill="rgb(20,20,20)" opacity="0.38"/><rect x="26.0" y="588.7" width="1" height="1.5" fill="rgb(23,23,23)" opacity="0.63"/><rect x="28.1" y="605.4" width="1.5" height="1" fill="rgb(71,71,71)" opacity="0.42"/><rect x="27.5" y="605.8" width="1" height="2" fill="rgb(76,76,76)" opacity="0.39"/><rect x="31.2" y="612.3" width="1.5" height="2" fill="rgb(50,50,50)" opacity="0.91"/><rect x="28.5" y="603.7" width="1" height="2" fill="rgb(115,115,115)" opacity="0.48"/><rect x="16.7" y="577.4" width="1.5" height="1" fill="rgb(27,27,27)" opacity="0.92"/><rect x="27.0" y="603.8" width="1" height="2.5" fill="rgb(60,60,60)" opacity="0.48"/><rect x="32.8" y="608.9" width="1.5" height="1" fill="rgb(29,29,29)" opacity="0.83"/><rect x="28.7" y="601.7" width="1" height="1.5" fill="rgb(28,28,28)" opacity="0.42"/><rect x="34.6" y="603.9" width="1" height="2.5" fill="rgb(21,21,21)" opacity="0.73"/><rect x="33.3" y="585.0" width="1.5" height="1" fill="rgb(88,88,88)" opacity="0.74"/><rect x="30.8" y="590.4" width="1" height="1.5" fill="rgb(38,38,38)" opacity="0.58"/>
<rect x="37.5" y="642.0" width="1" height="1.5" fill="rgb(104,104,104)" opacity="0.89"/><rect x="35.0" y="659.1" width="1.5" height="1" fill="rgb(77,77,77)" opacity="0.48"/><rect x="40.1" y="653.4" width="1" height="1" fill="rgb(58,58,58)" opacity="0.80"/><rect x="19.2" y="633.4" width="1.5" height="1" fill="rgb(106,106,106)" opacity="0.45"/><rect x="28.1" y="662.4" width="1" height="2" fill="rgb(67,67,67)" opacity="0.66"/><rect x="40.4" y="644.8" width="1" height="2.5" fill="rgb(47,47,47)" opacity="0.47"/><rect x="27.3" y="652.2" width="1.5" height="1.5" fill="rgb(48,48,48)" opacity="0.93"/><rect x="33.1" y="646.4" width="1" height="1.5" fill="rgb(72,72,72)" opacity="0.75"/><rect x="39.5" y="651.9" width="1" height="1" fill="rgb(20,20,20)" opacity="0.44"/><rect x="36.5" y="632.3" width="1.5" height="2.5" fill="rgb(90,90,90)" opacity="0.78"/><rect x="36.2" y="657.9" width="1" height="1.5" fill="rgb(73,73,73)" opacity="0.44"/><rect x="38.3" y="662.9" width="1" height="1" fill="rgb(41,41,41)" opacity="0.49"/><rect x="37.4" y="666.1" width="1.5" height="2" fill="rgb(52,52,52)" opacity="0.88"/><rect x="25.9" y="626.4" width="1" height="2" fill="rgb(32,32,32)" opacity="0.38"/><rect x="35.7" y="646.7" width="1" height="1.5" fill="rgb(29,29,29)" opacity="0.52"/><rect x="46.4" y="644.2" width="1.5" height="1" fill="rgb(87,87,87)" opacity="0.58"/><rect x="29.9" y="669.6" width="1" height="2" fill="rgb(51,51,51)" opacity="0.65"/><rect x="23.0" y="646.0" width="1" height="2.5" fill="rgb(91,91,91)" opacity="0.47"/><rect x="45.8" y="663.7" width="1.5" height="1" fill="rgb(108,108,108)" opacity="0.92"/><rect x="28.7" y="638.7" width="1" height="1" fill="rgb(109,109,109)" opacity="0.79"/><rect x="27.6" y="638.9" width="1" height="1" fill="rgb(76,76,76)" opacity="0.64"/><rect x="28.4" y="630.2" width="1" height="2" fill="rgb(61,61,61)" opacity="0.82"/><rect x="33.8" y="664.8" width="1" height="2.5" fill="rgb(72,72,72)" opacity="0.59"/><rect x="40.5" y="667.3" width="1" height="1.5" fill="rgb(68,68,68)" opacity="0.75"/><rect x="33.4" y="642.7" width="1" height="1" fill="rgb(54,54,54)" opacity="0.42"/><rect x="19.0" y="648.2" width="1.5" height="1" fill="rgb(80,80,80)" opacity="0.70"/><rect x="41.3" y="643.5" width="1" height="1.5" fill="rgb(110,110,110)" opacity="0.81"/><rect x="28.1" y="673.5" width="1" height="1" fill="rgb(70,70,70)" opacity="0.57"/><rect x="44.2" y="644.4" width="1" height="1" fill="rgb(110,110,110)" opacity="0.71"/><rect x="33.8" y="636.7" width="1" height="1.5" fill="rgb(40,40,40)" opacity="0.84"/><rect x="22.4" y="633.8" width="1" height="1" fill="rgb(21,21,21)" opacity="0.71"/><rect x="25.6" y="659.4" width="1" height="1" fill="rgb(20,20,20)" opacity="0.85"/><rect x="37.4" y="655.4" width="1" height="1" fill="rgb(42,42,42)" opacity="0.51"/><rect x="28.2" y="609.9" width="1" height="1" fill="rgb(34,34,34)" opacity="0.40"/><rect x="36.8" y="654.9" width="1.5" height="1.5" fill="rgb(29,29,29)" opacity="0.66"/><rect x="30.0" y="663.2" width="1.5" height="1.5" fill="rgb(62,62,62)" opacity="0.38"/><rect x="36.5" y="654.2" width="1" height="1" fill="rgb(99,99,99)" opacity="0.38"/><rect x="36.5" y="648.8" width="1" height="1.5" fill="rgb(84,84,84)" opacity="0.65"/><rect x="38.9" y="679.8" width="1" height="1" fill="rgb(108,108,108)" opacity="0.60"/><rect x="32.7" y="652.5" width="1" height="1" fill="rgb(80,80,80)" opacity="0.41"/><rect x="29.2" y="645.3" width="1.5" height="2" fill="rgb(49,49,49)" opacity="0.72"/><rect x="36.5" y="635.9" width="1.5" height="1" fill="rgb(21,21,21)" opacity="0.47"/><rect x="30.2" y="646.7" width="1.5" height="1" fill="rgb(116,116,116)" opacity="0.51"/><rect x="25.6" y="658.0" width="1" height="1" fill="rgb(49,49,49)" opacity="0.78"/><rect x="34.0" y="661.4" width="1.5" height="2.5" fill="rgb(44,44,44)" opacity="0.89"/><rect x="34.6" y="661.6" width="1" height="1" fill="rgb(40,40,40)" opacity="0.39"/><rect x="27.0" y="652.9" width="1" height="2" fill="rgb(60,60,60)" opacity="0.66"/><rect x="29.0" y="672.7" width="1" height="1" fill="rgb(57,57,57)" opacity="0.38"/><rect x="29.1" y="649.3" width="1" height="2" fill="rgb(23,23,23)" opacity="0.47"/><rect x="38.9" y="661.4" width="1" height="2" fill="rgb(87,87,87)" opacity="0.54"/><rect x="41.8" y="659.3" width="1.5" height="2" fill="rgb(81,81,81)" opacity="0.39"/><rect x="35.7" y="634.1" width="1.5" height="1.5" fill="rgb(81,81,81)" opacity="0.91"/><rect x="23.8" y="660.7" width="1.5" height="1.5" fill="rgb(99,99,99)" opacity="0.38"/><rect x="33.3" y="644.0" width="1" height="1" fill="rgb(24,24,24)" opacity="0.86"/><rect x="41.1" y="643.8" width="1" height="2" fill="rgb(107,107,107)" opacity="0.72"/>
<rect x="35.5" y="702.5" width="1" height="2" fill="rgb(86,86,86)" opacity="0.40"/><rect x="34.6" y="701.9" width="1" height="1" fill="rgb(56,56,56)" opacity="0.90"/><rect x="33.6" y="692.5" width="1" height="1.5" fill="rgb(40,40,40)" opacity="0.84"/><rect x="32.7" y="695.7" width="1" height="1" fill="rgb(69,69,69)" opacity="0.81"/><rect x="32.7" y="702.9" width="1" height="1" fill="rgb(78,78,78)" opacity="0.93"/><rect x="38.3" y="703.6" width="1.5" height="2" fill="rgb(48,48,48)" opacity="0.92"/><rect x="33.3" y="696.5" width="1.5" height="2" fill="rgb(111,111,111)" opacity="0.47"/><rect x="37.6" y="688.7" width="1.5" height="1" fill="rgb(85,85,85)" opacity="0.55"/><rect x="36.0" y="705.4" width="1.5" height="1" fill="rgb(98,98,98)" opacity="0.54"/><rect x="39.1" y="710.2" width="1" height="1" fill="rgb(104,104,104)" opacity="0.60"/><rect x="39.5" y="687.4" width="1" height="1" fill="rgb(120,120,120)" opacity="0.81"/><rect x="29.2" y="690.7" width="1" height="1" fill="rgb(60,60,60)" opacity="0.84"/><rect x="35.6" y="706.6" width="1" height="2.5" fill="rgb(65,65,65)" opacity="0.59"/><rect x="33.9" y="716.4" width="1" height="2" fill="rgb(116,116,116)" opacity="0.73"/><rect x="41.2" y="692.4" width="1" height="1" fill="rgb(113,113,113)" opacity="0.45"/><rect x="38.0" y="704.9" width="1" height="2" fill="rgb(75,75,75)" opacity="0.85"/><rect x="39.4" y="706.5" width="1" height="1" fill="rgb(64,64,64)" opacity="0.89"/><rect x="37.7" y="705.4" width="1" height="2.5" fill="rgb(103,103,103)" opacity="0.90"/><rect x="38.1" y="687.0" width="1.5" height="1.5" fill="rgb(80,80,80)" opacity="0.82"/><rect x="37.6" y="686.2" width="1" height="1.5" fill="rgb(66,66,66)" opacity="0.50"/><rect x="38.9" y="703.7" width="1" height="1" fill="rgb(49,49,49)" opacity="0.57"/><rect x="32.4" y="694.6" width="1" height="1" fill="rgb(79,79,79)" opacity="0.73"/><rect x="34.3" y="707.4" width="1.5" height="1.5" fill="rgb(101,101,101)" opacity="0.73"/><rect x="39.6" y="695.2" width="1" height="1.5" fill="rgb(114,114,114)" opacity="0.87"/><rect x="34.3" y="698.5" width="1" height="2" fill="rgb(77,77,77)" opacity="0.60"/>
<rect x="50.8" y="751.8" width="1" height="1" fill="rgb(66,66,66)" opacity="0.68"/><rect x="52.1" y="758.4" width="1" height="2.5" fill="rgb(24,24,24)" opacity="0.63"/><rect x="43.9" y="768.3" width="1" height="2" fill="rgb(31,31,31)" opacity="0.46"/><rect x="43.3" y="790.9" width="1" height="1" fill="rgb(48,48,48)" opacity="0.83"/><rect x="43.5" y="766.2" width="1" height="2" fill="rgb(40,40,40)" opacity="0.58"/><rect x="41.9" y="729.8" width="1" height="1.5" fill="rgb(58,58,58)" opacity="0.94"/><rect x="30.6" y="765.3" width="1.5" height="2.5" fill="rgb(116,116,116)" opacity="0.65"/><rect x="43.5" y="761.3" width="1.5" height="2.5" fill="rgb(41,41,41)" opacity="0.46"/><rect x="50.8" y="757.8" width="1" height="2.5" fill="rgb(66,66,66)" opacity="0.38"/><rect x="51.0" y="777.3" width="1" height="2.5" fill="rgb(79,79,79)" opacity="0.91"/><rect x="42.2" y="766.3" width="1.5" height="1" fill="rgb(74,74,74)" opacity="0.43"/><rect x="42.2" y="747.4" width="1" height="2" fill="rgb(47,47,47)" opacity="0.66"/><rect x="42.7" y="771.6" width="1" height="1.5" fill="rgb(111,111,111)" opacity="0.45"/><rect x="46.4" y="748.1" width="1" height="2.5" fill="rgb(42,42,42)" opacity="0.49"/><rect x="50.0" y="802.5" width="1" height="2" fill="rgb(111,111,111)" opacity="0.71"/><rect x="47.2" y="803.4" width="1.5" height="2.5" fill="rgb(26,26,26)" opacity="0.64"/><rect x="55.9" y="770.4" width="1" height="2.5" fill="rgb(106,106,106)" opacity="0.60"/><rect x="43.6" y="780.0" width="1" height="2.5" fill="rgb(63,63,63)" opacity="0.59"/><rect x="41.8" y="710.4" width="1" height="1" fill="rgb(72,72,72)" opacity="0.56"/><rect x="40.7" y="776.1" width="1" height="2" fill="rgb(30,30,30)" opacity="0.44"/><rect x="42.6" y="765.0" width="1" height="1" fill="rgb(73,73,73)" opacity="0.64"/><rect x="31.5" y="787.9" width="1.5" height="2" fill="rgb(55,55,55)" opacity="0.63"/><rect x="47.3" y="792.8" width="1" height="2.5" fill="rgb(41,41,41)" opacity="0.49"/><rect x="41.8" y="784.2" width="1" height="2" fill="rgb(32,32,32)" opacity="0.56"/><rect x="40.5" y="777.6" width="1.5" height="1" fill="rgb(79,79,79)" opacity="0.87"/><rect x="44.5" y="769.1" width="1.5" height="1.5" fill="rgb(85,85,85)" opacity="0.73"/><rect x="49.8" y="761.2" width="1.5" height="2.5" fill="rgb(58,58,58)" opacity="0.44"/><rect x="39.9" y="745.6" width="1" height="1" fill="rgb(100,100,100)" opacity="0.57"/><rect x="50.7" y="744.4" width="1" height="1.5" fill="rgb(40,40,40)" opacity="0.68"/><rect x="42.2" y="776.6" width="1" height="1" fill="rgb(23,23,23)" opacity="0.72"/><rect x="47.0" y="751.8" width="1" height="1.5" fill="rgb(86,86,86)" opacity="0.89"/><rect x="41.1" y="788.0" width="1" height="2" fill="rgb(34,34,34)" opacity="0.55"/><rect x="39.4" y="786.1" width="1" height="1" fill="rgb(67,67,67)" opacity="0.83"/><rect x="54.0" y="783.5" width="1" height="1.5" fill="rgb(62,62,62)" opacity="0.52"/><rect x="32.2" y="771.3" width="1.5" height="1" fill="rgb(29,29,29)" opacity="0.47"/><rect x="54.1" y="781.9" width="1" height="1.5" fill="rgb(49,49,49)" opacity="0.48"/><rect x="42.5" y="773.6" width="1" height="1" fill="rgb(90,90,90)" opacity="0.68"/><rect x="54.2" y="764.9" width="1" height="2" fill="rgb(44,44,44)" opacity="0.37"/><rect x="36.3" y="770.6" width="1.5" height="1" fill="rgb(100,100,100)" opacity="0.87"/><rect x="45.2" y="745.7" width="1" height="1" fill="rgb(30,30,30)" opacity="0.38"/><rect x="45.8" y="772.7" width="1" height="1" fill="rgb(79,79,79)" opacity="0.45"/><rect x="48.1" y="792.4" width="1" height="1.5" fill="rgb(35,35,35)" opacity="0.94"/><rect x="40.1" y="777.2" width="1" height="2" fill="rgb(49,49,49)" opacity="0.64"/><rect x="53.0" y="774.1" width="1" height="1" fill="rgb(43,43,43)" opacity="0.89"/><rect x="47.1" y="745.7" width="1" height="2" fill="rgb(87,87,87)" opacity="0.72"/><rect x="52.8" y="752.4" width="1" height="2" fill="rgb(76,76,76)" opacity="0.88"/><rect x="41.1" y="760.3" width="1.5" height="2.5" fill="rgb(38,38,38)" opacity="0.87"/><rect x="51.0" y="758.2" width="1" height="2" fill="rgb(42,42,42)" opacity="0.76"/><rect x="49.3" y="791.6" width="1" height="1.5" fill="rgb(73,73,73)" opacity="0.77"/><rect x="47.0" y="786.3" width="1.5" height="1.5" fill="rgb(81,81,81)" opacity="0.92"/><rect x="51.7" y="759.3" width="1" height="2" fill="rgb(44,44,44)" opacity="0.51"/><rect x="52.9" y="751.9" width="1" height="2.5" fill="rgb(108,108,108)" opacity="0.55"/><rect x="40.7" y="752.0" width="1" height="1" fill="rgb(93,93,93)" opacity="0.86"/><rect x="40.7" y="771.0" width="1" height="2" fill="rgb(116,116,116)" opacity="0.38"/><rect x="43.0" y="773.3" width="1.5" height="1.5" fill="rgb(95,95,95)" opacity="0.65"/><rect x="44.9" y="768.4" width="1" height="1" fill="rgb(68,68,68)" opacity="0.52"/><rect x="53.3" y="793.9" width="1.5" height="1.5" fill="rgb(30,30,30)" opacity="0.79"/><rect x="43.5" y="763.4" width="1.5" height="1.5" fill="rgb(47,47,47)" opacity="0.39"/><rect x="44.5" y="801.4" width="1" height="2.5" fill="rgb(84,84,84)" opacity="0.95"/><rect x="38.7" y="780.4" width="1" height="2" fill="rgb(102,102,102)" opacity="0.87"/>
<rect x="38.8" y="795.6" width="1.5" height="1" fill="rgb(25,25,25)" opacity="0.80"/><rect x="42.0" y="791.4" width="1" height="2.5" fill="rgb(89,89,89)" opacity="0.79"/><rect x="41.9" y="763.6" width="1.5" height="1" fill="rgb(53,53,53)" opacity="0.84"/><rect x="42.2" y="774.3" width="1" height="1" fill="rgb(24,24,24)" opacity="0.48"/><rect x="39.2" y="748.2" width="1" height="1.5" fill="rgb(63,63,63)" opacity="0.85"/><rect x="38.9" y="741.5" width="1" height="1" fill="rgb(84,84,84)" opacity="0.51"/><rect x="42.2" y="803.6" width="1" height="2" fill="rgb(120,120,120)" opacity="0.48"/><rect x="41.0" y="776.4" width="1" height="2.5" fill="rgb(58,58,58)" opacity="0.93"/><rect x="41.2" y="744.8" width="1.5" height="1" fill="rgb(32,32,32)" opacity="0.60"/><rect x="40.1" y="773.0" width="1" height="2" fill="rgb(49,49,49)" opacity="0.74"/><rect x="39.7" y="772.7" width="1" height="1.5" fill="rgb(40,40,40)" opacity="0.66"/><rect x="41.7" y="780.8" width="1" height="1" fill="rgb(80,80,80)" opacity="0.63"/><rect x="42.3" y="760.6" width="1" height="2.5" fill="rgb(83,83,83)" opacity="0.81"/><rect x="40.5" y="764.3" width="1" height="1.5" fill="rgb(68,68,68)" opacity="0.93"/><rect x="41.6" y="768.9" width="1" height="1.5" fill="rgb(69,69,69)" opacity="0.70"/><rect x="41.8" y="797.8" width="1" height="1" fill="rgb(78,78,78)" opacity="0.42"/><rect x="40.7" y="794.8" width="1" height="2" fill="rgb(101,101,101)" opacity="0.47"/><rect x="42.5" y="763.1" width="1" height="1.5" fill="rgb(44,44,44)" opacity="0.71"/><rect x="40.1" y="815.1" width="1" height="2.5" fill="rgb(28,28,28)" opacity="0.60"/><rect x="41.1" y="776.7" width="1" height="1" fill="rgb(105,105,105)" opacity="0.42"/><rect x="40.9" y="778.1" width="1" height="2.5" fill="rgb(111,111,111)" opacity="0.75"/><rect x="40.7" y="818.6" width="1" height="1.5" fill="rgb(60,60,60)" opacity="0.89"/><rect x="40.5" y="749.7" width="1" height="2.5" fill="rgb(88,88,88)" opacity="0.84"/><rect x="41.7" y="771.0" width="1" height="1" fill="rgb(33,33,33)" opacity="0.48"/><rect x="42.0" y="786.5" width="1" height="2" fill="rgb(71,71,71)" opacity="0.95"/>
<rect x="50.4" y="778.4" width="1.5" height="1" fill="rgb(115,115,115)" opacity="0.89"/><rect x="47.9" y="773.6" width="1" height="1" fill="rgb(26,26,26)" opacity="0.95"/><rect x="47.9" y="759.7" width="1" height="1.5" fill="rgb(112,112,112)" opacity="0.57"/><rect x="50.6" y="800.0" width="1" height="1.5" fill="rgb(89,89,89)" opacity="0.43"/><rect x="49.3" y="782.2" width="1" height="1" fill="rgb(59,59,59)" opacity="0.65"/><rect x="47.8" y="766.3" width="1.5" height="2" fill="rgb(89,89,89)" opacity="0.80"/><rect x="48.9" y="764.1" width="1" height="1" fill="rgb(116,116,116)" opacity="0.35"/><rect x="49.8" y="766.4" width="1" height="2" fill="rgb(95,95,95)" opacity="0.58"/><rect x="48.1" y="796.9" width="1" height="1" fill="rgb(77,77,77)" opacity="0.94"/><rect x="49.0" y="779.1" width="1" height="1" fill="rgb(28,28,28)" opacity="0.51"/><rect x="49.3" y="750.1" width="1" height="1" fill="rgb(74,74,74)" opacity="0.80"/><rect x="50.7" y="786.7" width="1.5" height="1" fill="rgb(107,107,107)" opacity="0.44"/><rect x="48.7" y="787.5" width="1" height="2.5" fill="rgb(74,74,74)" opacity="0.91"/><rect x="47.9" y="765.8" width="1" height="1" fill="rgb(56,56,56)" opacity="0.65"/><rect x="48.7" y="781.0" width="1" height="2.5" fill="rgb(71,71,71)" opacity="0.45"/><rect x="48.4" y="761.0" width="1.5" height="1" fill="rgb(50,50,50)" opacity="0.89"/><rect x="49.8" y="775.2" width="1.5" height="1" fill="rgb(45,45,45)" opacity="0.59"/><rect x="48.1" y="772.2" width="1" height="1.5" fill="rgb(51,51,51)" opacity="0.51"/><rect x="48.6" y="765.7" width="1.5" height="2" fill="rgb(108,108,108)" opacity="0.86"/><rect x="49.4" y="777.7" width="1" height="2.5" fill="rgb(44,44,44)" opacity="0.94"/>
<rect x="5.1" y="132.8" width="1.5" height="1.5" fill="rgb(44,44,44)" opacity="0.41"/><rect x="7.1" y="129.2" width="1.5" height="1.5" fill="rgb(28,28,28)" opacity="0.91"/><rect x="5.2" y="124.6" width="1" height="1" fill="rgb(81,81,81)" opacity="0.61"/><rect x="3.7" y="133.1" width="1" height="2.5" fill="rgb(112,112,112)" opacity="0.38"/><rect x="3.0" y="117.5" width="1" height="1.5" fill="rgb(50,50,50)" opacity="0.38"/><rect x="0.2" y="127.0" width="1" height="1" fill="rgb(109,109,109)" opacity="0.85"/><rect x="5.5" y="144.1" width="1" height="1" fill="rgb(36,36,36)" opacity="0.40"/><rect x="3.2" y="115.2" width="1" height="1.5" fill="rgb(111,111,111)" opacity="0.42"/><rect x="4.4" y="130.9" width="1" height="1" fill="rgb(39,39,39)" opacity="0.38"/>
</g>
<rect x="277.8" y="190.0" width="1.5" height="1.5" fill="rgb(60,60,60)"/>
<rect x="490.7" y="186.7" width="1.5" height="1.5" fill="rgb(40,40,40)"/>
<rect x="449.2" y="266.9" width="1.5" height="1.5" fill="rgb(50,50,50)"/>
<rect x="357.3" y="322.3" width="1.5" height="1.5" fill="rgb(60,60,60)"/>
<rect x="512.6" y="383.5" width="1.5" height="2" fill="rgb(30,30,30)"/>
<rect x="782.4" y="420.7" width="1.5" height="1.5" fill="rgb(50,50,50)"/>
<rect x="488.8" y="476.8" width="1.5" height="1.5" fill="rgb(50,50,50)"/>
<rect x="336.5" y="117.0" width="1.2" height="2" fill="rgb(70,70,70)"/>
<rect x="242.4" y="80.4" width="1.2" height="1.2" fill="rgb(90,90,90)"/>
<rect x="462.0" y="73.3" width="1" height="1" fill="rgb(120,120,120)"/>
<rect x="480.8" y="697.8" width="1.5" height="1.3" fill="rgb(40,40,40)"/>
<rect x="480.3" y="701.8" width="2" height="1.2" fill="rgb(30,30,30)"/>
<rect x="482.4" y="704.6" width="1.5" height="1.5" fill="rgb(170,170,170)"/>
<rect x="482.4" y="707.5" width="1" height="1.5" fill="rgb(150,150,150)"/>
<rect x="478.5" y="711.0" width="1.5" height="1.5" fill="rgb(190,190,190)"/>
<rect x="483.7" y="710.0" width="1" height="1.5" fill="rgb(170,170,170)"/>
<rect x="482.2" y="714.0" width="1.5" height="1.5" fill="rgb(40,40,40)"/>
<rect x="504.2" y="710.3" width="1.5" height="3.2" fill="rgb(20,20,20)"/>
<rect x="463.0" y="731.3" width="1.3" height="2" fill="rgb(40,40,40)"/>
<rect x="462.0" y="738.7" width="1.5" height="1.5" fill="rgb(40,40,40)"/>
<rect x="470.8" y="742.3" width="1.5" height="1.5" fill="rgb(40,40,40)"/>
<rect x="468.0" y="725.5" width="1" height="1" fill="rgb(170,170,170)"/>
<rect x="470.3" y="726.3" width="1" height="1" fill="rgb(170,170,170)"/>
<rect x="477.5" y="769.5" width="1" height="1" fill="rgb(160,160,160)"/>
<rect x="490.6" y="769.5" width="1" height="1" fill="rgb(160,160,160)"/>
<rect x="112.7" y="774.5" width="1.2" height="8" fill="rgb(90,90,90)"/>
<rect x="967.0" y="85.0" width="1.5" height="1.5" fill="rgb(60,60,60)"/>
<rect x="995.3" y="129.4" width="1" height="1" fill="rgb(170,170,170)"/>
<rect x="978.0" y="795.0" width="1" height="1" fill="rgb(170,170,170)"/>
<rect x="1069.0" y="711.6" width="1" height="2" fill="rgb(141,141,141)"/>
<rect x="1077.6" y="549.1" width="1" height="1.5" fill="rgb(110,110,110)"/>
<rect x="1071.3" y="435.5" width="1" height="1" fill="rgb(146,146,146)"/>
<rect x="1069.2" y="454.9" width="1" height="1.5" fill="rgb(116,116,116)"/>
<rect x="1073.2" y="185.7" width="1" height="2" fill="rgb(65,65,65)"/>
<rect x="1070.0" y="516.4" width="1" height="1.5" fill="rgb(71,71,71)"/>
<rect x="1067.9" y="637.9" width="1" height="1.5" fill="rgb(174,174,174)"/>
<rect x="1071.2" y="270.5" width="1" height="2" fill="rgb(190,190,190)"/>
<rect x="1071.6" y="301.6" width="1" height="1.5" fill="rgb(68,68,68)"/>
<rect x="1070.8" y="610.4" width="1" height="2" fill="rgb(114,114,114)"/>
<rect x="1076.1" y="595.0" width="1" height="1.5" fill="rgb(176,176,176)"/>
<rect x="1065.2" y="349.1" width="1" height="1" fill="rgb(113,113,113)"/>
<rect x="1077.8" y="399.7" width="1" height="1.5" fill="rgb(125,125,125)"/>
<rect x="1073.7" y="287.3" width="1" height="1.5" fill="rgb(75,75,75)"/>
<rect x="1069.0" y="117.8" width="1" height="1" fill="rgb(138,138,138)"/>
<rect x="1068.8" y="427.9" width="1" height="2" fill="rgb(107,107,107)"/>
<rect x="1065.4" y="233.9" width="1" height="1" fill="rgb(184,184,184)"/>
<rect x="1074.0" y="726.2" width="1" height="2" fill="rgb(167,167,167)"/>
<rect x="1068.0" y="204.5" width="1" height="1" fill="rgb(99,99,99)"/>
<rect x="1074.0" y="343.3" width="1" height="1" fill="rgb(75,75,75)"/>
<rect x="1068.6" y="695.4" width="1" height="2" fill="rgb(73,73,73)"/>
<rect x="1069.9" y="202.4" width="1" height="1" fill="rgb(155,155,155)"/>
<rect x="1065.6" y="286.5" width="1" height="2" fill="rgb(190,190,190)"/>
<rect x="1077.9" y="791.8" width="1" height="2" fill="rgb(65,65,65)"/>
<rect x="1069.5" y="362.4" width="1" height="1.5" fill="rgb(62,62,62)"/>
<rect x="1065.6" y="321.4" width="1" height="1" fill="rgb(92,92,92)"/>
<rect x="1072.7" y="227.8" width="1" height="1" fill="rgb(65,65,65)"/>
<rect x="1068.1" y="236.1" width="1" height="1" fill="rgb(121,121,121)"/>
<rect x="1070.6" y="639.4" width="1" height="1" fill="rgb(142,142,142)"/>
<rect x="1064.5" y="324.4" width="1" height="2" fill="rgb(83,83,83)"/>
<rect x="1065.7" y="245.0" width="1" height="2" fill="rgb(139,139,139)"/>
<rect x="1076.8" y="105.8" width="1" height="1" fill="rgb(118,118,118)"/>
<rect x="1068.6" y="376.6" width="1" height="1" fill="rgb(168,168,168)"/>
<rect x="1068.7" y="264.6" width="1" height="1.5" fill="rgb(69,69,69)"/>
<rect x="1067.8" y="642.2" width="1" height="2" fill="rgb(182,182,182)"/>
<rect x="1077.8" y="133.3" width="1" height="2" fill="rgb(157,157,157)"/>
<rect x="1067.2" y="535.6" width="1" height="2" fill="rgb(180,180,180)"/>
<rect x="1066.2" y="769.1" width="1" height="2" fill="rgb(126,126,126)"/>
<rect x="1077.1" y="714.0" width="1" height="2" fill="rgb(139,139,139)"/>
<rect x="1076.2" y="583.7" width="1" height="1" fill="rgb(77,77,77)"/>
<rect x="1076.7" y="224.6" width="1" height="2" fill="rgb(61,61,61)"/>
<rect x="1069.7" y="416.2" width="1" height="1.5" fill="rgb(149,149,149)"/>
<rect x="1077.7" y="214.3" width="1" height="2" fill="rgb(190,190,190)"/>
<rect x="1065.6" y="299.6" width="1" height="1" fill="rgb(113,113,113)"/>
<rect x="1076.3" y="347.2" width="1" height="1.5" fill="rgb(145,145,145)"/>
<polygon fill="#000" points="7,0 142,0 142,1 313,1 313,2 372,2 372,2.5 430,2.5 430,3 486,3 486,3.5 545,3.5 545,4 600,4 600,3.8 658,3.8 658,4.6 715,4.6 715,4.8 771,4.8 771,5.6 830,5.6 830,6 887,6 887,6.3 940,6.3 940,6.8 1000,6.8 1000,7.6 1094.9,7.9 1094.9,16 1000,15.8 820,15.2 660,15.8 560,15.8 300,15.3 142,15.3 142,14.2 7,14.2"/>
<polygon fill="#000" points="1079,8 1094.9,8 1093.6,200 1092.8,254 1091.8,400 1089.6,600 1087.8,800 1087.6,850 1081.2,850 1081.2,800 1080.5,600 1080,400 1078.8,200"/>
<rect x="1096" y="0" width="1" height="850" fill="#000"/>
<text x="49" y="63.2" font-family="Liberation Sans, sans-serif" font-weight="700" font-size="18.5">UNCLASSIFIED</text>
<text transform="translate(184.00 107.40) rotate(-0.6) scale(0.8742 1)" x="-4.36 21.71 45.09 68.78 90.68 114.72" y="0" font-family="DejaVu Sans, sans-serif" font-weight="200" font-size="32" stroke="#000" stroke-width="0.45">DESERT</text>
<text transform="translate(319.80 105.98) rotate(-0.6) scale(0.9489 1)" x="-2.12 18.37 36.87 61.48 84.48" y="0" font-family="DejaVu Sans, sans-serif" font-weight="200" font-size="32" stroke="#000" stroke-width="0.45">STORM</text>
<text transform="translate(445.10 104.67) rotate(-0.6) scale(0.9760 1)" x="-4.80 18.67 27.46 48.83 67.79 88.52 108.31" y="0" font-family="DejaVu Sans, sans-serif" font-weight="200" font-size="32" stroke="#000" stroke-width="0.45">DISEASE</text>
<text transform="translate(589.90 103.15) rotate(-0.6) scale(0.9678 1)" x="-2.03 19.91 41.75 63.91 82.30 103.70 113.13 132.71 149.05 169.43 192.06 215.80" y="0" font-family="DejaVu Sans, sans-serif" font-weight="200" font-size="32" stroke="#000" stroke-width="0.45">SURVEILLANCE</text>
<text transform="translate(404.60 131.60) rotate(-0.6) scale(0.9818 1)" x="-1" y="0" font-family="DejaVu Sans, sans-serif" font-size="15.7" letter-spacing="0.45" stroke="#000" stroke-width="0.3">Summary</text>
<text transform="translate(489.80 130.71) rotate(-0.6) scale(0.9550 1)" x="-1" y="0" font-family="DejaVu Sans, sans-serif" font-size="15.7" letter-spacing="0.45" stroke="#000" stroke-width="0.3">rates</text>
<text transform="translate(537.60 130.20) rotate(-0.6) scale(0.9600 1)" x="0" y="0" font-family="DejaVu Sans, sans-serif" font-size="15.7" letter-spacing="0.45" stroke="#000" stroke-width="0.3">to</text>
<text transform="translate(562.50 129.94) rotate(-0.6) scale(0.9571 1)" x="-1" y="0" font-family="DejaVu Sans, sans-serif" font-size="15.7" letter-spacing="0.45" stroke="#000" stroke-width="0.3">date</text>
<polygon fill="none" stroke="#000" stroke-width="1.75" stroke-linejoin="miter" points="143.8,146.9 914.2,138.2 919.8,667.6 147.8,676.8"/>
<line x1="132.0" y1="147.1" x2="143.8" y2="147.1" stroke="#000" stroke-width="1.8"/>
<line x1="132.2" y1="174.1" x2="144.0" y2="174.1" stroke="#000" stroke-width="1.8"/>
<line x1="132.4" y1="200.7" x2="144.2" y2="200.7" stroke="#000" stroke-width="1.8"/>
<line x1="132.6" y1="227.5" x2="144.4" y2="227.5" stroke="#000" stroke-width="1.8"/>
<line x1="132.8" y1="253.9" x2="144.6" y2="253.9" stroke="#000" stroke-width="1.8"/>
<line x1="133.0" y1="280.7" x2="144.8" y2="280.7" stroke="#000" stroke-width="1.8"/>
<line x1="133.2" y1="307.8" x2="145.0" y2="307.8" stroke="#000" stroke-width="1.8"/>
<line x1="133.4" y1="333.8" x2="145.2" y2="333.8" stroke="#000" stroke-width="1.8"/>
<line x1="133.6" y1="359.9" x2="145.4" y2="359.9" stroke="#000" stroke-width="1.8"/>
<line x1="133.8" y1="386" x2="145.6" y2="386" stroke="#000" stroke-width="1.8"/>
<line x1="134.0" y1="411.9" x2="145.8" y2="411.9" stroke="#000" stroke-width="1.8"/>
<line x1="134.2" y1="438.2" x2="146.0" y2="438.2" stroke="#000" stroke-width="1.8"/>
<line x1="134.4" y1="465.5" x2="146.2" y2="465.5" stroke="#000" stroke-width="1.8"/>
<line x1="134.6" y1="491.9" x2="146.4" y2="491.9" stroke="#000" stroke-width="1.8"/>
<line x1="134.8" y1="517.9" x2="146.6" y2="517.9" stroke="#000" stroke-width="1.8"/>
<line x1="135.0" y1="544" x2="146.8" y2="544" stroke="#000" stroke-width="1.8"/>
<line x1="135.2" y1="570.1" x2="147.0" y2="570.1" stroke="#000" stroke-width="1.8"/>
<line x1="135.4" y1="596.5" x2="147.2" y2="596.5" stroke="#000" stroke-width="1.8"/>
<line x1="135.6" y1="622.8" x2="147.4" y2="622.8" stroke="#000" stroke-width="1.8"/>
<line x1="135.8" y1="649.4" x2="147.6" y2="649.4" stroke="#000" stroke-width="1.8"/>
<line x1="136.0" y1="676.3" x2="147.8" y2="676.3" stroke="#000" stroke-width="1.8"/>
<line x1="147.7" y1="676.8" x2="147.8" y2="686.4" stroke="#000" stroke-width="1.8"/>
<line x1="177.4" y1="676.4" x2="177.5" y2="686.0" stroke="#000" stroke-width="1.8"/>
<line x1="207.8" y1="676.1" x2="207.9" y2="685.7" stroke="#000" stroke-width="1.8"/>
<line x1="238.1" y1="675.7" x2="238.2" y2="685.3" stroke="#000" stroke-width="1.8"/>
<line x1="267.6" y1="675.4" x2="267.7" y2="685.0" stroke="#000" stroke-width="1.8"/>
<line x1="296.8" y1="675.0" x2="296.9" y2="684.6" stroke="#000" stroke-width="1.8"/>
<line x1="326.4" y1="674.7" x2="326.5" y2="684.3" stroke="#000" stroke-width="1.8"/>
<line x1="356.5" y1="674.3" x2="356.6" y2="683.9" stroke="#000" stroke-width="1.8"/>
<line x1="386.0" y1="674.0" x2="386.1" y2="683.6" stroke="#000" stroke-width="1.8"/>
<line x1="416.6" y1="673.6" x2="416.7" y2="683.2" stroke="#000" stroke-width="1.8"/>
<line x1="446.7" y1="673.2" x2="446.8" y2="682.8" stroke="#000" stroke-width="1.8"/>
<line x1="475.9" y1="672.9" x2="476.0" y2="682.5" stroke="#000" stroke-width="1.8"/>
<line x1="505.9" y1="672.5" x2="506.0" y2="682.1" stroke="#000" stroke-width="1.8"/>
<line x1="535.0" y1="672.2" x2="535.1" y2="681.8" stroke="#000" stroke-width="1.8"/>
<line x1="564.7" y1="671.8" x2="564.8" y2="681.4" stroke="#000" stroke-width="1.8"/>
<line x1="594.8" y1="671.5" x2="594.9" y2="681.1" stroke="#000" stroke-width="1.8"/>
<line x1="624.5" y1="671.1" x2="624.6" y2="680.7" stroke="#000" stroke-width="1.8"/>
<line x1="653.7" y1="670.8" x2="653.8" y2="680.4" stroke="#000" stroke-width="1.8"/>
<line x1="683.1" y1="670.4" x2="683.2" y2="680.0" stroke="#000" stroke-width="1.8"/>
<line x1="713.4" y1="670.1" x2="713.5" y2="679.7" stroke="#000" stroke-width="1.8"/>
<line x1="743.3" y1="669.7" x2="743.4" y2="679.3" stroke="#000" stroke-width="1.8"/>
<line x1="772.1" y1="669.4" x2="772.2" y2="679.0" stroke="#000" stroke-width="1.8"/>
<line x1="802.2" y1="669.0" x2="802.3" y2="678.6" stroke="#000" stroke-width="1.8"/>
<line x1="831.9" y1="668.6" x2="832.0" y2="678.2" stroke="#000" stroke-width="1.8"/>
<line x1="861.0" y1="668.3" x2="861.1" y2="677.9" stroke="#000" stroke-width="1.8"/>
<line x1="890.4" y1="668.0" x2="890.5" y2="677.6" stroke="#000" stroke-width="1.8"/>
<line x1="919.8" y1="667.6" x2="919.9" y2="677.2" stroke="#000" stroke-width="1.8"/>
<text transform="translate(123.6 153.7) scale(1.12 1)" text-anchor="end" font-family="Liberation Sans, sans-serif" font-size="16.5" letter-spacing="0.25" stroke="#000" stroke-width="0.2">20</text>
<text transform="translate(123.8 180.7) scale(1.12 1)" text-anchor="end" font-family="Liberation Sans, sans-serif" font-size="16.5" letter-spacing="0.25" stroke="#000" stroke-width="0.2">19</text>
<text transform="translate(124.0 207.3) scale(1.12 1)" text-anchor="end" font-family="Liberation Sans, sans-serif" font-size="16.5" letter-spacing="0.25" stroke="#000" stroke-width="0.2">18</text>
<text transform="translate(124.2 234.1) scale(1.12 1)" text-anchor="end" font-family="Liberation Sans, sans-serif" font-size="16.5" letter-spacing="0.25" stroke="#000" stroke-width="0.2">17</text>
<text transform="translate(124.4 260.5) scale(1.12 1)" text-anchor="end" font-family="Liberation Sans, sans-serif" font-size="16.5" letter-spacing="0.25" stroke="#000" stroke-width="0.2">16</text>
<text transform="translate(124.6 287.3) scale(1.12 1)" text-anchor="end" font-family="Liberation Sans, sans-serif" font-size="16.5" letter-spacing="0.25" stroke="#000" stroke-width="0.2">15</text>
<text transform="translate(124.8 314.4) scale(1.12 1)" text-anchor="end" font-family="Liberation Sans, sans-serif" font-size="16.5" letter-spacing="0.25" stroke="#000" stroke-width="0.2">14</text>
<text transform="translate(125.0 340.4) scale(1.12 1)" text-anchor="end" font-family="Liberation Sans, sans-serif" font-size="16.5" letter-spacing="0.25" stroke="#000" stroke-width="0.2">13</text>
<text transform="translate(125.2 366.5) scale(1.12 1)" text-anchor="end" font-family="Liberation Sans, sans-serif" font-size="16.5" letter-spacing="0.25" stroke="#000" stroke-width="0.2">12</text>
<text transform="translate(125.4 392.6) scale(1.12 1)" text-anchor="end" font-family="Liberation Sans, sans-serif" font-size="16.5" letter-spacing="0.25" stroke="#000" stroke-width="0.2">11</text>
<text transform="translate(125.6 418.5) scale(1.12 1)" text-anchor="end" font-family="Liberation Sans, sans-serif" font-size="16.5" letter-spacing="0.25" stroke="#000" stroke-width="0.2">10</text>
<text transform="translate(125.8 444.8) scale(1.12 1)" text-anchor="end" font-family="Liberation Sans, sans-serif" font-size="16.5" letter-spacing="0.25" stroke="#000" stroke-width="0.2">9</text>
<text transform="translate(126.0 472.1) scale(1.12 1)" text-anchor="end" font-family="Liberation Sans, sans-serif" font-size="16.5" letter-spacing="0.25" stroke="#000" stroke-width="0.2">8</text>
<text transform="translate(126.2 498.5) scale(1.12 1)" text-anchor="end" font-family="Liberation Sans, sans-serif" font-size="16.5" letter-spacing="0.25" stroke="#000" stroke-width="0.2">7</text>
<text transform="translate(126.4 524.5) scale(1.12 1)" text-anchor="end" font-family="Liberation Sans, sans-serif" font-size="16.5" letter-spacing="0.25" stroke="#000" stroke-width="0.2">6</text>
<text transform="translate(126.6 550.6) scale(1.12 1)" text-anchor="end" font-family="Liberation Sans, sans-serif" font-size="16.5" letter-spacing="0.25" stroke="#000" stroke-width="0.2">5</text>
<text transform="translate(126.8 576.7) scale(1.12 1)" text-anchor="end" font-family="Liberation Sans, sans-serif" font-size="16.5" letter-spacing="0.25" stroke="#000" stroke-width="0.2">4</text>
<text transform="translate(127.0 603.1) scale(1.12 1)" text-anchor="end" font-family="Liberation Sans, sans-serif" font-size="16.5" letter-spacing="0.25" stroke="#000" stroke-width="0.2">3</text>
<text transform="translate(127.2 629.4) scale(1.12 1)" text-anchor="end" font-family="Liberation Sans, sans-serif" font-size="16.5" letter-spacing="0.25" stroke="#000" stroke-width="0.2">2</text>
<text transform="translate(127.4 656.0) scale(1.12 1)" text-anchor="end" font-family="Liberation Sans, sans-serif" font-size="16.5" letter-spacing="0.25" stroke="#000" stroke-width="0.2">1</text>
<text transform="translate(127.6 682.9) scale(1.12 1)" text-anchor="end" font-family="Liberation Sans, sans-serif" font-size="16.5" letter-spacing="0.25" stroke="#000" stroke-width="0.2">0</text>
<text transform="translate(153.50 710.50) rotate(-0.6) scale(1.1571 1)" x="-1" y="0" font-family="Liberation Sans, sans-serif" font-size="16.5" stroke="#000" stroke-width="0.2">2</text>
<text transform="translate(171.90 710.31) rotate(-0.6) scale(1.0000 1)" x="-1" y="0" font-family="Liberation Sans, sans-serif" font-size="16.5" stroke="#000" stroke-width="0.2">SEP</text>
<text transform="translate(238.50 709.60) rotate(-0.6) scale(1.0706 1)" x="-1" y="0" font-family="Liberation Sans, sans-serif" font-size="16.5" stroke="#000" stroke-width="0.2">23</text>
<text transform="translate(267.60 709.29) rotate(-0.6) scale(0.9548 1)" x="-1" y="0" font-family="Liberation Sans, sans-serif" font-size="16.5" stroke="#000" stroke-width="0.2">SEP</text>
<text transform="translate(330.00 708.30) rotate(-0.6) scale(1.0176 1)" x="-1" y="0" font-family="Liberation Sans, sans-serif" font-size="16.5" stroke="#000" stroke-width="0.2">14</text>
<text transform="translate(356.50 708.02) rotate(-0.6) scale(0.9206 1)" x="-1" y="0" font-family="Liberation Sans, sans-serif" font-size="16.5" stroke="#000" stroke-width="0.2">OCT</text>
<text transform="translate(422.50 707.40) rotate(-0.6) scale(0.9667 1)" x="0" y="0" font-family="Liberation Sans, sans-serif" font-size="16.5" stroke="#000" stroke-width="0.2">4</text>
<text transform="translate(441.20 707.20) rotate(-0.6) scale(0.9029 1)" x="-1" y="0" font-family="Liberation Sans, sans-serif" font-size="16.5" stroke="#000" stroke-width="0.2">NOV</text>
<text transform="translate(507.10 706.20) rotate(-0.6) scale(1.1412 1)" x="-1" y="0" font-family="Liberation Sans, sans-serif" font-size="16.5" stroke="#000" stroke-width="0.2">25</text>
<text transform="translate(534.40 705.91) rotate(-0.6) scale(0.8800 1)" x="-1" y="0" font-family="Liberation Sans, sans-serif" font-size="16.5" stroke="#000" stroke-width="0.2">NOV</text>
<text transform="translate(597.10 705.40) rotate(-0.6) scale(1.0471 1)" x="-1" y="0" font-family="Liberation Sans, sans-serif" font-size="16.5" stroke="#000" stroke-width="0.2">16</text>
<text transform="translate(624.50 705.11) rotate(-0.6) scale(0.9091 1)" x="-1" y="0" font-family="Liberation Sans, sans-serif" font-size="16.5" stroke="#000" stroke-width="0.2">DEC</text>
<text transform="translate(690.50 704.20) rotate(-0.6) scale(1.0000 1)" x="-1" y="0" font-family="Liberation Sans, sans-serif" font-size="16.5" stroke="#000" stroke-width="0.2">6</text>
<text transform="translate(708.80 704.01) rotate(-0.6) scale(0.9267 1)" x="0" y="0" font-family="Liberation Sans, sans-serif" font-size="16.5" stroke="#000" stroke-width="0.2">JAN</text>
<text transform="translate(773.40 703.30) rotate(-0.6) scale(1.1765 1)" x="-1" y="0" font-family="Liberation Sans, sans-serif" font-size="16.5" stroke="#000" stroke-width="0.2">27</text>
<text transform="translate(803.10 702.99) rotate(-0.6) scale(0.9100 1)" x="0" y="0" font-family="Liberation Sans, sans-serif" font-size="16.5" stroke="#000" stroke-width="0.2">JAN</text>
<text transform="translate(864.10 702.30) rotate(-0.6) scale(1.0647 1)" x="-1" y="0" font-family="Liberation Sans, sans-serif" font-size="16.5" stroke="#000" stroke-width="0.2">17</text>
<text transform="translate(891.50 702.01) rotate(-0.6) scale(0.9267 1)" x="-1" y="0" font-family="Liberation Sans, sans-serif" font-size="16.5" stroke="#000" stroke-width="0.2">FEB</text>
<polyline fill="none" stroke="#000" stroke-width="1.4" stroke-linejoin="round" points="145.5,340.5 176.5,457.5 206.5,419.1 235.6,424.7 265.1,435.8 295.6,487.5 324.3,485.9 354.3,489.6 385.0,495.6 414.5,509.6 444.6,498.3 475.0,509.6 504.3,518.0 533.3,472.2 563.4,524.2 593.6,532.8 622.3,517.8 652.3,516.3 682.3,519.4 711.1,513.2 741.4,558.9 771.5,585.7 800.5,526.4 829.3,504.3 859.9,516.5 888.1,462.1 917.8,510.7"/>
<rect x="141.1" y="336.1" width="8.8" height="8.8" fill="none" stroke="#000" stroke-width="1.7"/>
<rect x="172.1" y="453.1" width="8.8" height="8.8" fill="none" stroke="#000" stroke-width="1.7"/>
<rect x="202.1" y="414.7" width="8.8" height="8.8" fill="none" stroke="#000" stroke-width="1.7"/>
<rect x="231.2" y="420.3" width="8.8" height="8.8" fill="none" stroke="#000" stroke-width="1.7"/>
<rect x="260.7" y="431.4" width="8.8" height="8.8" fill="none" stroke="#000" stroke-width="1.7"/>
<rect x="291.2" y="483.1" width="8.8" height="8.8" fill="none" stroke="#000" stroke-width="1.7"/>
<rect x="319.9" y="481.5" width="8.8" height="8.8" fill="none" stroke="#000" stroke-width="1.7"/>
<rect x="349.9" y="485.2" width="8.8" height="8.8" fill="none" stroke="#000" stroke-width="1.7"/>
<rect x="380.6" y="491.2" width="8.8" height="8.8" fill="none" stroke="#000" stroke-width="1.7"/>
<rect x="410.1" y="505.2" width="8.8" height="8.8" fill="none" stroke="#000" stroke-width="1.7"/>
<rect x="440.2" y="493.9" width="8.8" height="8.8" fill="none" stroke="#000" stroke-width="1.7"/>
<rect x="470.6" y="505.2" width="8.8" height="8.8" fill="none" stroke="#000" stroke-width="1.7"/>
<rect x="499.9" y="513.6" width="8.8" height="8.8" fill="none" stroke="#000" stroke-width="1.7"/>
<rect x="528.9" y="467.8" width="8.8" height="8.8" fill="none" stroke="#000" stroke-width="1.7"/>
<rect x="559.0" y="519.8" width="8.8" height="8.8" fill="none" stroke="#000" stroke-width="1.7"/>
<rect x="589.2" y="528.4" width="8.8" height="8.8" fill="none" stroke="#000" stroke-width="1.7"/>
<rect x="617.9" y="513.4" width="8.8" height="8.8" fill="none" stroke="#000" stroke-width="1.7"/>
<rect x="647.9" y="511.9" width="8.8" height="8.8" fill="none" stroke="#000" stroke-width="1.7"/>
<rect x="677.9" y="515.0" width="8.8" height="8.8" fill="none" stroke="#000" stroke-width="1.7"/>
<rect x="706.7" y="508.8" width="8.8" height="8.8" fill="none" stroke="#000" stroke-width="1.7"/>
<rect x="737.0" y="554.5" width="8.8" height="8.8" fill="none" stroke="#000" stroke-width="1.7"/>
<rect x="767.1" y="581.3" width="8.8" height="8.8" fill="none" stroke="#000" stroke-width="1.7"/>
<rect x="796.1" y="522.0" width="8.8" height="8.8" fill="none" stroke="#000" stroke-width="1.7"/>
<rect x="824.9" y="499.9" width="8.8" height="8.8" fill="none" stroke="#000" stroke-width="1.7"/>
<rect x="855.5" y="512.1" width="8.8" height="8.8" fill="none" stroke="#000" stroke-width="1.7"/>
<rect x="883.7" y="457.7" width="8.8" height="8.8" fill="none" stroke="#000" stroke-width="1.7"/>
<rect x="913.4" y="506.3" width="8.8" height="8.8" fill="none" stroke="#000" stroke-width="1.7"/>
<text transform="translate(42.40 584.50) rotate(-90.36) scale(1.0293 1)" x="-1" y="0" font-family="Liberation Sans, sans-serif" font-size="16" stroke="#000" stroke-width="0.25">PERCENT</text>
<text transform="translate(41.84 496.00) rotate(-90.36) scale(1.0762 1)" x="-1" y="0" font-family="Liberation Sans, sans-serif" font-size="16" stroke="#000" stroke-width="0.25">OF</text>
<text transform="translate(41.63 462.90) rotate(-90.36) scale(1.0417 1)" x="-1" y="0" font-family="Liberation Sans, sans-serif" font-size="16" stroke="#000" stroke-width="0.25">UNIT</text>
<text transform="translate(41.32 414.80) rotate(-90.36) scale(0.9918 1)" x="0" y="0" font-family="Liberation Sans, sans-serif" font-size="16" stroke="#000" stroke-width="0.25">TREATED</text>
<text transform="translate(40.79 331.30) rotate(-90.36) scale(0.8774 1)" x="-1" y="0" font-family="Liberation Sans, sans-serif" font-size="16" stroke="#000" stroke-width="0.25">PER</text>
<text transform="translate(40.52 289.30) rotate(-90.36) scale(1.0511 1)" x="0" y="0" font-family="Liberation Sans, sans-serif" font-size="16" stroke="#000" stroke-width="0.25">WEEK</text>
<rect x="333" y="751.4" width="9.6" height="9.4" fill="none" stroke="#000" stroke-width="2.1"/>
<text x="379.4" y="760.9" font-family="Liberation Sans, sans-serif" font-size="16.2" letter-spacing="-0.55" word-spacing="3.2" stroke="#000" stroke-width="0.4">TOTAL ACUTE VISITS</text>
<text transform="translate(1058 136.5) rotate(-90) scale(1.2 1.35)" font-family="DejaVu Sans, sans-serif" font-weight="200" font-size="13" stroke="#000" stroke-width="0.8"><tspan x="0 10.6 17.6 24.6" y="0 0 0.4 0">Encl</tspan></text>
<text transform="translate(1058 136.5) rotate(-90) translate(45 5) skewX(22)" font-family="DejaVu Sans, sans-serif" font-weight="200" font-size="22" stroke="#000" stroke-width="0.9">7</text>
</svg>
</body></html>
